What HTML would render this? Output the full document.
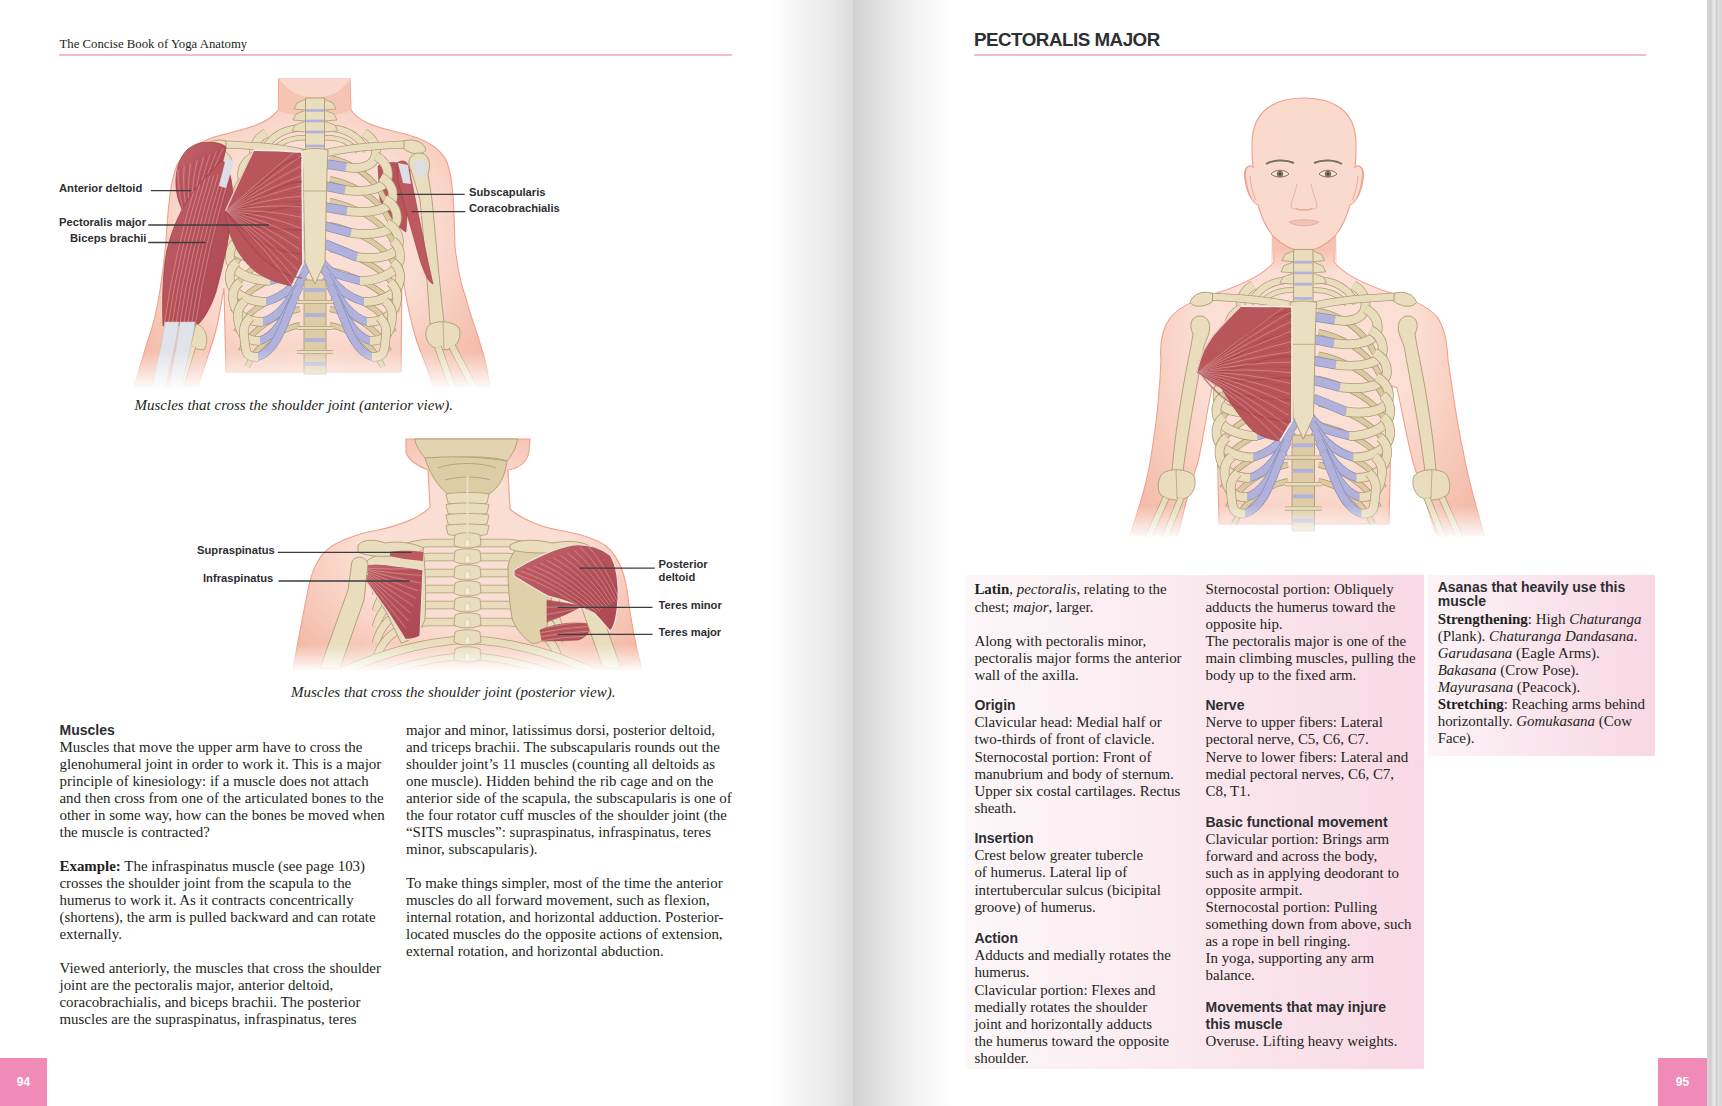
<!DOCTYPE html>
<html><head><meta charset="utf-8">
<style>
html,body{margin:0;padding:0;}
body{width:1722px;height:1106px;position:relative;overflow:hidden;background:#fff;font-family:"Liberation Serif",serif;color:#231f20;}
.abs{position:absolute;}
.s{font-family:"Liberation Sans",sans-serif;font-weight:700;color:#2c2e32;}
.b{position:absolute;font-size:14.93px;line-height:17px;white-space:nowrap;}
.r{line-height:17.22px;}
.h{font-family:"Liberation Sans",sans-serif;font-weight:700;color:#2c2e32;font-size:14px;}
.lab{position:absolute;font-family:"Liberation Sans",sans-serif;font-weight:700;color:#2c2e32;font-size:11.2px;line-height:13px;white-space:nowrap;}
.cap{position:absolute;font-style:italic;font-size:15px;white-space:nowrap;line-height:17px;}
i{font-style:italic;}
</style></head>
<body>
<!-- gutter shadow -->
<div class="abs" style="left:770px;top:0;width:83px;height:1106px;background:linear-gradient(to right,rgba(0,0,0,0) 0%,rgba(0,0,0,0.04) 30%,rgba(0,0,0,0.09) 75%,rgba(0,0,0,0.14) 100%);"></div>
<div class="abs" style="left:853px;top:0;width:100px;height:1106px;background:linear-gradient(to right,rgba(0,0,0,0.18) 0%,rgba(0,0,0,0.12) 25%,rgba(0,0,0,0.05) 60%,rgba(0,0,0,0) 100%);"></div>
<!-- right edge page stripes -->
<div class="abs" style="left:1707px;top:0;width:15px;height:1106px;background:linear-gradient(to right,#d6d6d6 0px,#cfcfcf 4px,#e4e4e4 6px,#e8e8e8 8px,#d0d0d0 9px,#d0d0d0 10px,#e6e6e6 12px,#d2d2d2 13px,#e0e0e0 15px);"></div>

<!--FIG--><svg class="abs" style="left:0;top:0" width="1722" height="1106" viewBox="0 0 1722 1106"><defs>
<linearGradient id="neckG" x1="0" y1="0" x2="0" y2="1"><stop offset="0.4" stop-color="#f5c2b1"/><stop offset="1" stop-color="#f5c2b1" stop-opacity="0"/></linearGradient>
<linearGradient id="fade" x1="0" y1="0" x2="0" y2="1"><stop offset="0" stop-color="#fff" stop-opacity="0"/><stop offset="1" stop-color="#fff" stop-opacity="1"/></linearGradient>
<radialGradient id="skinA" cx="0.5" cy="0.5" r="0.62"><stop offset="0.5" stop-color="#fbded3"/><stop offset="1" stop-color="#f4b9a7"/></radialGradient>
<radialGradient id="skinC" cx="0.5" cy="0.55" r="0.6"><stop offset="0.5" stop-color="#fbdfd4"/><stop offset="1" stop-color="#f4bba9"/></radialGradient>
<linearGradient id="musG" x1="0" y1="0" x2="1" y2="1"><stop offset="0" stop-color="#c3646a"/><stop offset="0.5" stop-color="#b6525a"/><stop offset="1" stop-color="#aa4850"/></linearGradient>
<clipPath id="clipB"><rect x="250" y="430" width="450" height="242"/></clipPath>
<clipPath id="cDeltA"><path d="M200,143 C212,141 222,143 226,147 C224,162 216,180 208,196 C202,208 196,216 190,222 C182,212 177,200 176,186 C175,170 180,156 188,149 C192,146 196,144 200,143 Z"/></clipPath><clipPath id="cBicA"><path d="M222,160 C229,166 233,182 233,200 C231,232 224,262 216,292 C210,310 202,322 196,326 L163,326 C162,300 163,270 167,250 C173,225 184,202 198,186 C207,176 214,168 222,160 Z"/></clipPath><clipPath id="cPecA"><path d="M254,150 C270,150 290,151 302,152 L303,264 L292,286 C280,284 266,279 256,272 C246,264 236,252 230,234 C227,225 226,217 225.5,211 C234,192 244,170 254,150 Z"/></clipPath><clipPath id="cInfB"><path d="M358,568 C366,563 380,563 395,566 C405,567 415,568 423,570 L420,636 C414,639 410,640 405,639 C398,628 392,618 388,612 C378,598 366,582 358,568 Z"/></clipPath><clipPath id="cTmaj"><path d="M540,630 C552,625 570,621 590,624 C592,630 586,638 578,640 C565,641 552,641 542,641 Z"/></clipPath><clipPath id="cDelB"><path d="M514,570 C530,560 555,548 573,545 C585,544 598,546 610,555 C617,565 619,585 618,600 C617,615 614,628 610,631 C604,624 598,617 594,613 C580,606 565,600 548,596 C536,590 524,582 514,576 Z"/></clipPath><clipPath id="cTmin"><path d="M547,600 C558,602 572,604 582,606 C572,612 558,618 547,622 Z"/></clipPath><clipPath id="cPecC"><path d="M1241,306 C1260,306 1278,306 1292,307 L1292,421 L1280,441 C1270,440 1260,436 1253,431 C1240,418 1228,400 1221,387 L1197,372 C1199,362 1202,355 1204,350 C1208,343 1212,336 1217,331 C1225,322 1233,314 1241,306 Z"/></clipPath></defs><path d="M278.5,79 L350,79 L351,110 C358,121 375,127 397,132 C420,137 440,146 447,162 C453,178 454,205 455,247 C458,270 461,285 465,295 C470,315 478,335 482,350 C486,362 488,372 490,388 L434,388 C428,370 422,355 417,342 C410,320 406,300 402,272 L401,372 L226,372 L224,288 C221,305 219,318 216,330 C211,350 204,365 198,388 L134,388 C140,365 145,350 148,340 C155,320 158,305 160,290 C164,265 166,245 167,225 C169,200 171,180 177,165 C185,150 200,142 214,137 C235,131 255,128 270,118 C276,113 278,111 278.5,109 Z" fill="url(#skinA)" stroke="#eea08d" stroke-width="1.1" /><path d="M279,79 L350,79 L350.5,110 C340,118 290,118 278.5,110 Z" fill="#f6c4b3" /><path d="M279,79 C290,93 300,97.5 315,97.5 C330,97.5 340,93 350,79 Z" fill="#f9d8cb" /><path d="M378,166 C390,160 402,162 410,170 L406,232 C398,228 388,215 380,200 Z" fill="#b9545a" stroke="#9a3a40" stroke-width="0.6" /><g><g><path d="M330,158 C350,162 374,176 385,200" fill="none" stroke="#a99670" stroke-width="6.0" stroke-linecap="butt"/><path d="M330,158 C350,162 374,176 385,200" fill="none" stroke="#dccaa3" stroke-width="4.5" stroke-linecap="butt"/><path d="M330,179 C350,183 379,197 390,221" fill="none" stroke="#a99670" stroke-width="6.0" stroke-linecap="butt"/><path d="M330,179 C350,183 379,197 390,221" fill="none" stroke="#dccaa3" stroke-width="4.5" stroke-linecap="butt"/><path d="M330,201 C350,205 383,219 394,243" fill="none" stroke="#a99670" stroke-width="6.0" stroke-linecap="butt"/><path d="M330,201 C350,205 383,219 394,243" fill="none" stroke="#dccaa3" stroke-width="4.5" stroke-linecap="butt"/><path d="M330,225 C350,229 385,243 396,267" fill="none" stroke="#a99670" stroke-width="6.0" stroke-linecap="butt"/><path d="M330,225 C350,229 385,243 396,267" fill="none" stroke="#dccaa3" stroke-width="4.5" stroke-linecap="butt"/><path d="M330,249 C350,253 386,267 397,291" fill="none" stroke="#a99670" stroke-width="6.0" stroke-linecap="butt"/><path d="M330,249 C350,253 386,267 397,291" fill="none" stroke="#dccaa3" stroke-width="4.5" stroke-linecap="butt"/><path d="M330,270 C350,274 386,288 397,312" fill="none" stroke="#a99670" stroke-width="6.0" stroke-linecap="butt"/><path d="M330,270 C350,274 386,288 397,312" fill="none" stroke="#dccaa3" stroke-width="4.5" stroke-linecap="butt"/><path d="M330,290 C350,294 383,308 394,332" fill="none" stroke="#a99670" stroke-width="6.0" stroke-linecap="butt"/><path d="M330,290 C350,294 383,308 394,332" fill="none" stroke="#dccaa3" stroke-width="4.5" stroke-linecap="butt"/><path d="M330,309 C350,313 378,327 389,351" fill="none" stroke="#a99670" stroke-width="6.0" stroke-linecap="butt"/><path d="M330,309 C350,313 378,327 389,351" fill="none" stroke="#dccaa3" stroke-width="4.5" stroke-linecap="butt"/><path d="M330,325 C350,329 372,343 383,367" fill="none" stroke="#a99670" stroke-width="6.0" stroke-linecap="butt"/><path d="M330,325 C350,329 372,343 383,367" fill="none" stroke="#dccaa3" stroke-width="4.5" stroke-linecap="butt"/><path d="M326,164 L346,167" fill="none" stroke="#8d8fba" stroke-width="9.5" stroke-linecap="butt"/><path d="M326,164 L346,167" fill="none" stroke="#b0b2db" stroke-width="8" stroke-linecap="butt"/><path d="M346,167 C361.0,170 376,166 376,152 C376,143 371,137 364,133" fill="none" stroke="#ad9b74" stroke-width="9.5" stroke-linecap="butt"/><path d="M346,167 C361.0,170 376,166 376,152 C376,143 371,137 364,133" fill="none" stroke="#e9ddbd" stroke-width="8" stroke-linecap="butt"/><path d="M325,186 L345,190" fill="none" stroke="#8d8fba" stroke-width="9.5" stroke-linecap="butt"/><path d="M325,186 L345,190" fill="none" stroke="#b0b2db" stroke-width="8" stroke-linecap="butt"/><path d="M345,190 C366.5,193 388,189 388,175 C388,166 383,160 376,156" fill="none" stroke="#ad9b74" stroke-width="9.5" stroke-linecap="butt"/><path d="M345,190 C366.5,193 388,189 388,175 C388,166 383,160 376,156" fill="none" stroke="#e9ddbd" stroke-width="8" stroke-linecap="butt"/><path d="M325,207 L347,211" fill="none" stroke="#8d8fba" stroke-width="9.5" stroke-linecap="butt"/><path d="M325,207 L347,211" fill="none" stroke="#b0b2db" stroke-width="8" stroke-linecap="butt"/><path d="M347,211 C370.0,214 393,210 393,196 C393,187 388,181 381,177" fill="none" stroke="#ad9b74" stroke-width="9.5" stroke-linecap="butt"/><path d="M347,211 C370.0,214 393,210 393,196 C393,187 388,181 381,177" fill="none" stroke="#e9ddbd" stroke-width="8" stroke-linecap="butt"/><path d="M325,226 L351,233" fill="none" stroke="#8d8fba" stroke-width="9.5" stroke-linecap="butt"/><path d="M325,226 L351,233" fill="none" stroke="#b0b2db" stroke-width="8" stroke-linecap="butt"/><path d="M351,233 C374.0,236 397,232 397,218 C397,209 392,203 385,199" fill="none" stroke="#ad9b74" stroke-width="9.5" stroke-linecap="butt"/><path d="M351,233 C374.0,236 397,232 397,218 C397,209 392,203 385,199" fill="none" stroke="#e9ddbd" stroke-width="8" stroke-linecap="butt"/><path d="M325,244 L357,257" fill="none" stroke="#8d8fba" stroke-width="9.5" stroke-linecap="butt"/><path d="M325,244 L357,257" fill="none" stroke="#b0b2db" stroke-width="8" stroke-linecap="butt"/><path d="M357,257 C378.0,260 399,256 399,242 C399,233 394,227 387,223" fill="none" stroke="#ad9b74" stroke-width="9.5" stroke-linecap="butt"/><path d="M357,257 C378.0,260 399,256 399,242 C399,233 394,227 387,223" fill="none" stroke="#e9ddbd" stroke-width="8" stroke-linecap="butt"/><path d="M322,262 C330,274 338,275 361,281" fill="none" stroke="#8d8fba" stroke-width="8.5" stroke-linecap="butt"/><path d="M322,262 C330,274 338,275 361,281" fill="none" stroke="#b0b2db" stroke-width="7" stroke-linecap="butt"/><path d="M360,281 C374,281 398,275 400,259 C401,251 398,245 393,241" fill="none" stroke="#ad9b74" stroke-width="9.5" stroke-linecap="butt"/><path d="M360,281 C374,281 398,275 400,259 C401,251 398,245 393,241" fill="none" stroke="#e9ddbd" stroke-width="8" stroke-linecap="butt"/><path d="M323,268 C331,280 342,296 365,302" fill="none" stroke="#8d8fba" stroke-width="8.5" stroke-linecap="butt"/><path d="M323,268 C331,280 342,296 365,302" fill="none" stroke="#b0b2db" stroke-width="7" stroke-linecap="butt"/><path d="M364,302 C378,302 398,296 400,280 C401,272 398,266 393,262" fill="none" stroke="#ad9b74" stroke-width="9.5" stroke-linecap="butt"/><path d="M364,302 C378,302 398,296 400,280 C401,272 398,266 393,262" fill="none" stroke="#e9ddbd" stroke-width="8" stroke-linecap="butt"/><path d="M326,276 C334,288 345,316 368,322" fill="none" stroke="#8d8fba" stroke-width="8.5" stroke-linecap="butt"/><path d="M326,276 C334,288 345,316 368,322" fill="none" stroke="#b0b2db" stroke-width="7" stroke-linecap="butt"/><path d="M367,322 C381,322 395,316 397,300 C398,292 395,286 390,282" fill="none" stroke="#ad9b74" stroke-width="9.5" stroke-linecap="butt"/><path d="M367,322 C381,322 395,316 397,300 C398,292 395,286 390,282" fill="none" stroke="#e9ddbd" stroke-width="8" stroke-linecap="butt"/><path d="M330,286 C338,298 348,335 371,341" fill="none" stroke="#8d8fba" stroke-width="8.5" stroke-linecap="butt"/><path d="M330,286 C338,298 348,335 371,341" fill="none" stroke="#b0b2db" stroke-width="7" stroke-linecap="butt"/><path d="M370,341 C384,341 390,335 392,319 C393,311 390,305 385,301" fill="none" stroke="#ad9b74" stroke-width="9.5" stroke-linecap="butt"/><path d="M370,341 C384,341 390,335 392,319 C393,311 390,305 385,301" fill="none" stroke="#e9ddbd" stroke-width="8" stroke-linecap="butt"/><path d="M334,296 C342,308 350,351 373,357" fill="none" stroke="#8d8fba" stroke-width="8.5" stroke-linecap="butt"/><path d="M334,296 C342,308 350,351 373,357" fill="none" stroke="#b0b2db" stroke-width="7" stroke-linecap="butt"/><path d="M372,357 C386,357 384,351 386,335 C387,327 384,321 379,317" fill="none" stroke="#ad9b74" stroke-width="9.5" stroke-linecap="butt"/><path d="M372,357 C386,357 384,351 386,335 C387,327 384,321 379,317" fill="none" stroke="#e9ddbd" stroke-width="8" stroke-linecap="butt"/><path d="M323,128 C342,127 358,134 367,151" fill="none" stroke="#ad9b74" stroke-width="7.5" stroke-linecap="butt"/><path d="M323,128 C342,127 358,134 367,151" fill="none" stroke="#e9ddbd" stroke-width="6" stroke-linecap="butt"/><path d="M323,138 C338,137 350,142 358,152" fill="none" stroke="#ad9b74" stroke-width="5.5" stroke-linecap="butt"/><path d="M323,138 C338,137 350,142 358,152" fill="none" stroke="#e9ddbd" stroke-width="4" stroke-linecap="butt"/><path d="M326,153 C345,149 362,147 378,146 C398,145 410,142 421,148" fill="none" stroke="#ad9b74" stroke-width="8.0" stroke-linecap="butt"/><path d="M326,153 C345,149 362,147 378,146 C398,145 410,142 421,148" fill="none" stroke="#e9ddbd" stroke-width="6.5" stroke-linecap="butt"/><path d="M404,141 C414,138 424,142 426,150 C422,156 410,154 404,149 Z" fill="#e9ddbd" stroke="#ad9b74" stroke-width="0.9" /><path d="M324,99 L333,103 L336,109 L324,110 Z" fill="#e9ddbd" stroke="#ad9b74" stroke-width="0.8" /><path d="M324,110 L334,114 L337,120 L324,121 Z" fill="#e9ddbd" stroke="#ad9b74" stroke-width="0.8" /><path d="M324,121 L335,125 L338,131 L324,132 Z" fill="#e9ddbd" stroke="#ad9b74" stroke-width="0.8" /></g><g transform="translate(630,0) scale(-1,1)"><path d="M330,158 C350,162 374,176 385,200" fill="none" stroke="#a99670" stroke-width="6.0" stroke-linecap="butt"/><path d="M330,158 C350,162 374,176 385,200" fill="none" stroke="#dccaa3" stroke-width="4.5" stroke-linecap="butt"/><path d="M330,179 C350,183 379,197 390,221" fill="none" stroke="#a99670" stroke-width="6.0" stroke-linecap="butt"/><path d="M330,179 C350,183 379,197 390,221" fill="none" stroke="#dccaa3" stroke-width="4.5" stroke-linecap="butt"/><path d="M330,201 C350,205 383,219 394,243" fill="none" stroke="#a99670" stroke-width="6.0" stroke-linecap="butt"/><path d="M330,201 C350,205 383,219 394,243" fill="none" stroke="#dccaa3" stroke-width="4.5" stroke-linecap="butt"/><path d="M330,225 C350,229 385,243 396,267" fill="none" stroke="#a99670" stroke-width="6.0" stroke-linecap="butt"/><path d="M330,225 C350,229 385,243 396,267" fill="none" stroke="#dccaa3" stroke-width="4.5" stroke-linecap="butt"/><path d="M330,249 C350,253 386,267 397,291" fill="none" stroke="#a99670" stroke-width="6.0" stroke-linecap="butt"/><path d="M330,249 C350,253 386,267 397,291" fill="none" stroke="#dccaa3" stroke-width="4.5" stroke-linecap="butt"/><path d="M330,270 C350,274 386,288 397,312" fill="none" stroke="#a99670" stroke-width="6.0" stroke-linecap="butt"/><path d="M330,270 C350,274 386,288 397,312" fill="none" stroke="#dccaa3" stroke-width="4.5" stroke-linecap="butt"/><path d="M330,290 C350,294 383,308 394,332" fill="none" stroke="#a99670" stroke-width="6.0" stroke-linecap="butt"/><path d="M330,290 C350,294 383,308 394,332" fill="none" stroke="#dccaa3" stroke-width="4.5" stroke-linecap="butt"/><path d="M330,309 C350,313 378,327 389,351" fill="none" stroke="#a99670" stroke-width="6.0" stroke-linecap="butt"/><path d="M330,309 C350,313 378,327 389,351" fill="none" stroke="#dccaa3" stroke-width="4.5" stroke-linecap="butt"/><path d="M330,325 C350,329 372,343 383,367" fill="none" stroke="#a99670" stroke-width="6.0" stroke-linecap="butt"/><path d="M330,325 C350,329 372,343 383,367" fill="none" stroke="#dccaa3" stroke-width="4.5" stroke-linecap="butt"/><path d="M326,164 L346,167" fill="none" stroke="#8d8fba" stroke-width="9.5" stroke-linecap="butt"/><path d="M326,164 L346,167" fill="none" stroke="#b0b2db" stroke-width="8" stroke-linecap="butt"/><path d="M346,167 C361.0,170 376,166 376,152 C376,143 371,137 364,133" fill="none" stroke="#ad9b74" stroke-width="9.5" stroke-linecap="butt"/><path d="M346,167 C361.0,170 376,166 376,152 C376,143 371,137 364,133" fill="none" stroke="#e9ddbd" stroke-width="8" stroke-linecap="butt"/><path d="M325,186 L345,190" fill="none" stroke="#8d8fba" stroke-width="9.5" stroke-linecap="butt"/><path d="M325,186 L345,190" fill="none" stroke="#b0b2db" stroke-width="8" stroke-linecap="butt"/><path d="M345,190 C366.5,193 388,189 388,175 C388,166 383,160 376,156" fill="none" stroke="#ad9b74" stroke-width="9.5" stroke-linecap="butt"/><path d="M345,190 C366.5,193 388,189 388,175 C388,166 383,160 376,156" fill="none" stroke="#e9ddbd" stroke-width="8" stroke-linecap="butt"/><path d="M325,207 L347,211" fill="none" stroke="#8d8fba" stroke-width="9.5" stroke-linecap="butt"/><path d="M325,207 L347,211" fill="none" stroke="#b0b2db" stroke-width="8" stroke-linecap="butt"/><path d="M347,211 C370.0,214 393,210 393,196 C393,187 388,181 381,177" fill="none" stroke="#ad9b74" stroke-width="9.5" stroke-linecap="butt"/><path d="M347,211 C370.0,214 393,210 393,196 C393,187 388,181 381,177" fill="none" stroke="#e9ddbd" stroke-width="8" stroke-linecap="butt"/><path d="M325,226 L351,233" fill="none" stroke="#8d8fba" stroke-width="9.5" stroke-linecap="butt"/><path d="M325,226 L351,233" fill="none" stroke="#b0b2db" stroke-width="8" stroke-linecap="butt"/><path d="M351,233 C374.0,236 397,232 397,218 C397,209 392,203 385,199" fill="none" stroke="#ad9b74" stroke-width="9.5" stroke-linecap="butt"/><path d="M351,233 C374.0,236 397,232 397,218 C397,209 392,203 385,199" fill="none" stroke="#e9ddbd" stroke-width="8" stroke-linecap="butt"/><path d="M325,244 L357,257" fill="none" stroke="#8d8fba" stroke-width="9.5" stroke-linecap="butt"/><path d="M325,244 L357,257" fill="none" stroke="#b0b2db" stroke-width="8" stroke-linecap="butt"/><path d="M357,257 C378.0,260 399,256 399,242 C399,233 394,227 387,223" fill="none" stroke="#ad9b74" stroke-width="9.5" stroke-linecap="butt"/><path d="M357,257 C378.0,260 399,256 399,242 C399,233 394,227 387,223" fill="none" stroke="#e9ddbd" stroke-width="8" stroke-linecap="butt"/><path d="M322,262 C330,274 338,275 361,281" fill="none" stroke="#8d8fba" stroke-width="8.5" stroke-linecap="butt"/><path d="M322,262 C330,274 338,275 361,281" fill="none" stroke="#b0b2db" stroke-width="7" stroke-linecap="butt"/><path d="M360,281 C374,281 398,275 400,259 C401,251 398,245 393,241" fill="none" stroke="#ad9b74" stroke-width="9.5" stroke-linecap="butt"/><path d="M360,281 C374,281 398,275 400,259 C401,251 398,245 393,241" fill="none" stroke="#e9ddbd" stroke-width="8" stroke-linecap="butt"/><path d="M323,268 C331,280 342,296 365,302" fill="none" stroke="#8d8fba" stroke-width="8.5" stroke-linecap="butt"/><path d="M323,268 C331,280 342,296 365,302" fill="none" stroke="#b0b2db" stroke-width="7" stroke-linecap="butt"/><path d="M364,302 C378,302 398,296 400,280 C401,272 398,266 393,262" fill="none" stroke="#ad9b74" stroke-width="9.5" stroke-linecap="butt"/><path d="M364,302 C378,302 398,296 400,280 C401,272 398,266 393,262" fill="none" stroke="#e9ddbd" stroke-width="8" stroke-linecap="butt"/><path d="M326,276 C334,288 345,316 368,322" fill="none" stroke="#8d8fba" stroke-width="8.5" stroke-linecap="butt"/><path d="M326,276 C334,288 345,316 368,322" fill="none" stroke="#b0b2db" stroke-width="7" stroke-linecap="butt"/><path d="M367,322 C381,322 395,316 397,300 C398,292 395,286 390,282" fill="none" stroke="#ad9b74" stroke-width="9.5" stroke-linecap="butt"/><path d="M367,322 C381,322 395,316 397,300 C398,292 395,286 390,282" fill="none" stroke="#e9ddbd" stroke-width="8" stroke-linecap="butt"/><path d="M330,286 C338,298 348,335 371,341" fill="none" stroke="#8d8fba" stroke-width="8.5" stroke-linecap="butt"/><path d="M330,286 C338,298 348,335 371,341" fill="none" stroke="#b0b2db" stroke-width="7" stroke-linecap="butt"/><path d="M370,341 C384,341 390,335 392,319 C393,311 390,305 385,301" fill="none" stroke="#ad9b74" stroke-width="9.5" stroke-linecap="butt"/><path d="M370,341 C384,341 390,335 392,319 C393,311 390,305 385,301" fill="none" stroke="#e9ddbd" stroke-width="8" stroke-linecap="butt"/><path d="M334,296 C342,308 350,351 373,357" fill="none" stroke="#8d8fba" stroke-width="8.5" stroke-linecap="butt"/><path d="M334,296 C342,308 350,351 373,357" fill="none" stroke="#b0b2db" stroke-width="7" stroke-linecap="butt"/><path d="M372,357 C386,357 384,351 386,335 C387,327 384,321 379,317" fill="none" stroke="#ad9b74" stroke-width="9.5" stroke-linecap="butt"/><path d="M372,357 C386,357 384,351 386,335 C387,327 384,321 379,317" fill="none" stroke="#e9ddbd" stroke-width="8" stroke-linecap="butt"/><path d="M323,128 C342,127 358,134 367,151" fill="none" stroke="#ad9b74" stroke-width="7.5" stroke-linecap="butt"/><path d="M323,128 C342,127 358,134 367,151" fill="none" stroke="#e9ddbd" stroke-width="6" stroke-linecap="butt"/><path d="M323,138 C338,137 350,142 358,152" fill="none" stroke="#ad9b74" stroke-width="5.5" stroke-linecap="butt"/><path d="M323,138 C338,137 350,142 358,152" fill="none" stroke="#e9ddbd" stroke-width="4" stroke-linecap="butt"/><path d="M326,153 C345,149 362,147 378,146 C398,145 410,142 421,148" fill="none" stroke="#ad9b74" stroke-width="8.0" stroke-linecap="butt"/><path d="M326,153 C345,149 362,147 378,146 C398,145 410,142 421,148" fill="none" stroke="#e9ddbd" stroke-width="6.5" stroke-linecap="butt"/><path d="M404,141 C414,138 424,142 426,150 C422,156 410,154 404,149 Z" fill="#e9ddbd" stroke="#ad9b74" stroke-width="0.9" /><path d="M324,99 L333,103 L336,109 L324,110 Z" fill="#e9ddbd" stroke="#ad9b74" stroke-width="0.8" /><path d="M324,110 L334,114 L337,120 L324,121 Z" fill="#e9ddbd" stroke="#ad9b74" stroke-width="0.8" /><path d="M324,121 L335,125 L338,131 L324,132 Z" fill="#e9ddbd" stroke="#ad9b74" stroke-width="0.8" /></g><path d="M305.5,98 L324.5,98 L324.5,152 L305.5,152 Z" fill="#e9ddbd" stroke="#ad9b74" stroke-width="0.9" /><path d="M306,110.5 L324,110.5" fill="none" stroke="#b0b2db" stroke-width="2.6" /><path d="M306,121 L324,121" fill="none" stroke="#b0b2db" stroke-width="2.6" /><path d="M306,132 L324,132" fill="none" stroke="#b0b2db" stroke-width="2.6" /><path d="M306,146 L324,146" fill="none" stroke="#b0b2db" stroke-width="2.6" /><path d="M304,280 L326,280 L326,374 L304,374 Z" fill="#ddcca6" stroke="#ad9b74" stroke-width="0.9" /><path d="M305,290 L325,290" fill="none" stroke="#b0b2db" stroke-width="3.8" /><path d="M305,315 L325,315" fill="none" stroke="#b0b2db" stroke-width="3.8" /><path d="M305,340 L325,340" fill="none" stroke="#b0b2db" stroke-width="3.8" /><path d="M305,364 L325,364" fill="none" stroke="#b0b2db" stroke-width="3.8" /><path d="M297,302 L333,302" fill="none" stroke="#ad9b74" stroke-width="4.1" stroke-linecap="butt"/><path d="M297,302 L333,302" fill="none" stroke="#e9ddbd" stroke-width="2.6" stroke-linecap="butt"/><path d="M297,328 L333,328" fill="none" stroke="#ad9b74" stroke-width="4.1" stroke-linecap="butt"/><path d="M297,328 L333,328" fill="none" stroke="#e9ddbd" stroke-width="2.6" stroke-linecap="butt"/><path d="M297,352 L333,352" fill="none" stroke="#ad9b74" stroke-width="4.1" stroke-linecap="butt"/><path d="M297,352 L333,352" fill="none" stroke="#e9ddbd" stroke-width="2.6" stroke-linecap="butt"/><path d="M302,150 C310,148 320,148 328,150 L327,172 L325,262 L315,284 L305,262 L303,172 Z" fill="#eadfc1" stroke="#ad9b74" stroke-width="0.9" /><path d="M304,191 L326,191" fill="none" stroke="#ad9b74" stroke-width="0.7" /></g><path d="M411,170 C406,162 410,153 419,153 C428,153 432,162 428,174 L432,200 C436,240 440,290 444,322 L430,324 C428,290 424,240 420,200 L414,180 Z" fill="#e9ddbd" stroke="#ad9b74" stroke-width="0.9" /><path d="M428,326 C434,320 452,320 459,328 C462,336 458,346 450,349 C440,351 430,348 427,340 C425,334 426,330 428,326 Z" fill="#e9ddbd" stroke="#ad9b74" stroke-width="0.9" /><path d="M443,322 L444,349" fill="none" stroke="#ad9b74" stroke-width="0.7" /><path d="M438,347 L454,392" fill="none" stroke="#ad9b74" stroke-width="7.5" stroke-linecap="butt"/><path d="M438,347 L454,392" fill="none" stroke="#e9ddbd" stroke-width="6" stroke-linecap="butt"/><path d="M452,346 L476,392" fill="none" stroke="#ad9b74" stroke-width="7.5" stroke-linecap="butt"/><path d="M452,346 L476,392" fill="none" stroke="#e9ddbd" stroke-width="6" stroke-linecap="butt"/><path d="M414,160 C420,157 428,162 428,170 L420,180 C416,174 413,167 414,160 Z" fill="#dcdde5" opacity="0.9"/><path d="M397,163 C402,159 408,161 409,168 L428,262 L433,284 C428,282 424,272 420,260 L398,182 Z" fill="#bd5a5f" stroke="#9a3a40" stroke-width="0.6" /><path d="M398,163 L408,165 L411,184 L403,183 Z" fill="#dcdde5" /><path d="M210,150 C218,146 228,150 232,160 L224,200 L212,200 Z" fill="#e9ddbd" stroke="#ad9b74" stroke-width="0.8" /><path d="M200,143 C212,141 222,143 226,147 C224,162 216,180 208,196 C202,208 196,216 190,222 C182,212 177,200 176,186 C175,170 180,156 188,149 C192,146 196,144 200,143 Z" fill="url(#musG)" stroke="#9a3a40" stroke-width="0.7" /><g clip-path="url(#cDeltA)"><path d="M177.6,169.2 Q178.0,195.5 186.4,221.8" fill="none" stroke="#e7aeab" stroke-width="0.9" opacity="0.55"/><path d="M180.9,167.8 Q180.1,194.5 187.3,221.2" fill="none" stroke="#a3434a" stroke-width="0.9" opacity="0.35"/><path d="M184.1,166.2 Q182.2,193.5 188.2,220.8" fill="none" stroke="#e7aeab" stroke-width="0.9" opacity="0.55"/><path d="M187.4,164.8 Q184.2,192.5 189.1,220.2" fill="none" stroke="#a3434a" stroke-width="0.9" opacity="0.35"/><path d="M190.6,163.2 Q186.3,191.5 189.9,219.8" fill="none" stroke="#e7aeab" stroke-width="0.9" opacity="0.55"/><path d="M193.9,161.8 Q188.3,190.5 190.8,219.2" fill="none" stroke="#a3434a" stroke-width="0.9" opacity="0.35"/><path d="M197.1,160.2 Q190.4,189.5 191.7,218.8" fill="none" stroke="#e7aeab" stroke-width="0.9" opacity="0.55"/><path d="M200.4,158.8 Q192.5,188.5 192.6,218.2" fill="none" stroke="#a3434a" stroke-width="0.9" opacity="0.35"/><path d="M203.6,157.2 Q194.5,187.5 193.4,217.8" fill="none" stroke="#e7aeab" stroke-width="0.9" opacity="0.55"/><path d="M206.9,155.8 Q196.6,186.5 194.3,217.2" fill="none" stroke="#a3434a" stroke-width="0.9" opacity="0.35"/><path d="M210.1,154.2 Q198.7,185.5 195.2,216.8" fill="none" stroke="#e7aeab" stroke-width="0.9" opacity="0.55"/><path d="M213.4,152.8 Q200.7,184.5 196.1,216.2" fill="none" stroke="#a3434a" stroke-width="0.9" opacity="0.35"/><path d="M216.6,151.2 Q202.8,183.5 196.9,215.8" fill="none" stroke="#e7aeab" stroke-width="0.9" opacity="0.55"/><path d="M219.9,149.8 Q204.8,182.5 197.8,215.2" fill="none" stroke="#a3434a" stroke-width="0.9" opacity="0.35"/><path d="M223.1,148.2 Q206.9,181.5 198.7,214.8" fill="none" stroke="#e7aeab" stroke-width="0.9" opacity="0.55"/><path d="M226.4,146.8 Q209.0,180.5 199.6,214.2" fill="none" stroke="#a3434a" stroke-width="0.9" opacity="0.35"/></g><path d="M222,160 C229,166 233,182 233,200 C231,232 224,262 216,292 C210,310 202,322 196,326 L163,326 C162,300 163,270 167,250 C173,225 184,202 198,186 C207,176 214,168 222,160 Z" fill="url(#musG)" stroke="#9a3a40" stroke-width="0.7" /><g clip-path="url(#cBicA)"><path d="M164.0,326.0 Q174.5,252.9 197.1,179.7" fill="none" stroke="#e7aeab" stroke-width="0.9" opacity="0.55"/><path d="M165.9,326.0 Q176.5,252.6 199.2,179.2" fill="none" stroke="#a3434a" stroke-width="0.9" opacity="0.35"/><path d="M167.9,326.0 Q178.6,252.3 201.3,178.6" fill="none" stroke="#e7aeab" stroke-width="0.9" opacity="0.55"/><path d="M169.8,326.0 Q180.6,252.0 203.4,178.1" fill="none" stroke="#a3434a" stroke-width="0.9" opacity="0.35"/><path d="M171.8,326.0 Q182.6,251.8 205.5,177.5" fill="none" stroke="#e7aeab" stroke-width="0.9" opacity="0.55"/><path d="M173.7,326.0 Q184.7,251.5 207.6,176.9" fill="none" stroke="#a3434a" stroke-width="0.9" opacity="0.35"/><path d="M175.6,326.0 Q186.7,251.2 209.7,176.4" fill="none" stroke="#e7aeab" stroke-width="0.9" opacity="0.55"/><path d="M177.6,326.0 Q188.7,250.9 211.8,175.8" fill="none" stroke="#a3434a" stroke-width="0.9" opacity="0.35"/><path d="M179.5,326.0 Q190.7,250.6 213.9,175.3" fill="none" stroke="#e7aeab" stroke-width="0.9" opacity="0.55"/><path d="M181.5,326.0 Q192.8,250.4 216.1,174.7" fill="none" stroke="#a3434a" stroke-width="0.9" opacity="0.35"/><path d="M183.4,326.0 Q194.8,250.1 218.2,174.2" fill="none" stroke="#e7aeab" stroke-width="0.9" opacity="0.55"/><path d="M185.4,326.0 Q196.8,249.8 220.3,173.6" fill="none" stroke="#a3434a" stroke-width="0.9" opacity="0.35"/><path d="M187.3,326.0 Q198.8,249.5 222.4,173.1" fill="none" stroke="#e7aeab" stroke-width="0.9" opacity="0.55"/><path d="M189.2,326.0 Q200.9,249.2 224.5,172.5" fill="none" stroke="#a3434a" stroke-width="0.9" opacity="0.35"/><path d="M191.2,326.0 Q202.9,249.0 226.6,171.9" fill="none" stroke="#e7aeab" stroke-width="0.9" opacity="0.55"/><path d="M193.1,326.0 Q204.9,248.7 228.7,171.4" fill="none" stroke="#a3434a" stroke-width="0.9" opacity="0.35"/><path d="M195.1,326.0 Q207.0,248.4 230.8,170.8" fill="none" stroke="#e7aeab" stroke-width="0.9" opacity="0.55"/><path d="M197.0,326.0 Q209.0,248.1 232.9,170.3" fill="none" stroke="#a3434a" stroke-width="0.9" opacity="0.35"/></g><path d="M226,158 L234,161 L226,188 L219,186 Z" fill="#dcdde5" /><path d="M196,324 C206,326 210,340 204,350 L190,348 Z" fill="#e9ddbd" stroke="#ad9b74" stroke-width="0.8" /><path d="M192,346 L178,392" fill="none" stroke="#ad9b74" stroke-width="8.5" stroke-linecap="butt"/><path d="M192,346 L178,392" fill="none" stroke="#e9ddbd" stroke-width="7" stroke-linecap="butt"/><path d="M165,322 L179,322 C176,345 170,365 164,392 L152,392 C156,365 162,345 165,322 Z" fill="#e2e3ea" stroke="#c9c3bd" stroke-width="0.6" /><path d="M180,322 L195,322 C192,345 186,365 180,392 L169,392 C172,365 177,345 180,322 Z" fill="#e2e3ea" stroke="#c9c3bd" stroke-width="0.6" /><path d="M254,150 C270,150 290,151 302,152 L303,264 L292,286 C280,284 266,279 256,272 C246,264 236,252 230,234 C227,225 226,217 225.5,211 C234,192 244,170 254,150 Z" fill="#b9565c" stroke="#9c4248" stroke-width="0.6" /><path d="M254,150 C270,150 290,151 302,152 L303,264 L292,286" fill="none" stroke="#f3ede6" stroke-width="1.8" /><path d="M225.5,211 C234,192 244,170 254,150" fill="none" stroke="#efcfc6" stroke-width="1.3" /><path d="M226,211 C250,205 275,156 302,158" fill="none" stroke="#a8434a" stroke-width="1.6" opacity="0.6"/><path d="M226,211 C250,214 275,180 302,182" fill="none" stroke="#a8434a" stroke-width="1.6" opacity="0.6"/><path d="M226,211 C250,223 275,204 302,206" fill="none" stroke="#a8434a" stroke-width="1.6" opacity="0.6"/><path d="M226,211 C250,232 275,228 302,230" fill="none" stroke="#a8434a" stroke-width="1.6" opacity="0.6"/><path d="M226,211 C250,241 275,252 302,254" fill="none" stroke="#a8434a" stroke-width="1.6" opacity="0.6"/><path d="M226,211 C250,250 275,276 302,278" fill="none" stroke="#a8434a" stroke-width="1.6" opacity="0.6"/><g clip-path="url(#cPecA)"><path d="M226.0,211.0 Q269.9,171.8 305.8,142.7" fill="none" stroke="#e7aeab" stroke-width="0.9" opacity="0.55"/><path d="M226.0,211.0 Q269.8,174.5 305.5,148.0" fill="none" stroke="#a3434a" stroke-width="0.9" opacity="0.35"/><path d="M226.0,211.0 Q269.6,177.2 305.2,153.3" fill="none" stroke="#e7aeab" stroke-width="0.9" opacity="0.55"/><path d="M226.0,211.0 Q269.4,179.8 304.8,158.7" fill="none" stroke="#a3434a" stroke-width="0.9" opacity="0.35"/><path d="M226.0,211.0 Q269.2,182.5 304.5,164.0" fill="none" stroke="#e7aeab" stroke-width="0.9" opacity="0.55"/><path d="M226.0,211.0 Q269.1,185.2 304.2,169.3" fill="none" stroke="#a3434a" stroke-width="0.9" opacity="0.35"/><path d="M226.0,211.0 Q268.9,187.8 303.8,174.7" fill="none" stroke="#e7aeab" stroke-width="0.9" opacity="0.55"/><path d="M226.0,211.0 Q268.8,190.5 303.5,180.0" fill="none" stroke="#a3434a" stroke-width="0.9" opacity="0.35"/><path d="M226.0,211.0 Q268.6,193.2 303.2,185.3" fill="none" stroke="#e7aeab" stroke-width="0.9" opacity="0.55"/><path d="M226.0,211.0 Q268.4,195.8 302.8,190.7" fill="none" stroke="#a3434a" stroke-width="0.9" opacity="0.35"/><path d="M226.0,211.0 Q268.2,198.5 302.5,196.0" fill="none" stroke="#e7aeab" stroke-width="0.9" opacity="0.55"/><path d="M226.0,211.0 Q268.1,201.2 302.2,201.3" fill="none" stroke="#a3434a" stroke-width="0.9" opacity="0.35"/><path d="M226.0,211.0 Q267.9,203.8 301.8,206.7" fill="none" stroke="#e7aeab" stroke-width="0.9" opacity="0.55"/><path d="M226.0,211.0 Q267.8,206.5 301.5,212.0" fill="none" stroke="#a3434a" stroke-width="0.9" opacity="0.35"/><path d="M226.0,211.0 Q267.6,209.2 301.2,217.3" fill="none" stroke="#e7aeab" stroke-width="0.9" opacity="0.55"/><path d="M226.0,211.0 Q267.4,211.8 300.8,222.7" fill="none" stroke="#a3434a" stroke-width="0.9" opacity="0.35"/><path d="M226.0,211.0 Q267.2,214.5 300.5,228.0" fill="none" stroke="#e7aeab" stroke-width="0.9" opacity="0.55"/><path d="M226.0,211.0 Q267.1,217.2 300.2,233.3" fill="none" stroke="#a3434a" stroke-width="0.9" opacity="0.35"/><path d="M226.0,211.0 Q266.9,219.8 299.8,238.7" fill="none" stroke="#e7aeab" stroke-width="0.9" opacity="0.55"/><path d="M226.0,211.0 Q266.8,222.5 299.5,244.0" fill="none" stroke="#a3434a" stroke-width="0.9" opacity="0.35"/><path d="M226.0,211.0 Q266.6,225.2 299.2,249.3" fill="none" stroke="#e7aeab" stroke-width="0.9" opacity="0.55"/><path d="M226.0,211.0 Q266.4,227.8 298.8,254.7" fill="none" stroke="#a3434a" stroke-width="0.9" opacity="0.35"/><path d="M226.0,211.0 Q266.2,230.5 298.5,260.0" fill="none" stroke="#e7aeab" stroke-width="0.9" opacity="0.55"/><path d="M226.0,211.0 Q266.1,233.2 298.2,265.3" fill="none" stroke="#a3434a" stroke-width="0.9" opacity="0.35"/><path d="M226.0,211.0 Q265.9,235.8 297.8,270.7" fill="none" stroke="#e7aeab" stroke-width="0.9" opacity="0.55"/><path d="M226.0,211.0 Q265.8,238.5 297.5,276.0" fill="none" stroke="#a3434a" stroke-width="0.9" opacity="0.35"/><path d="M226.0,211.0 Q265.6,241.2 297.2,281.3" fill="none" stroke="#e7aeab" stroke-width="0.9" opacity="0.55"/><path d="M226.0,211.0 Q265.4,243.8 296.8,286.7" fill="none" stroke="#a3434a" stroke-width="0.9" opacity="0.35"/><path d="M226.0,211.0 Q265.2,246.5 296.5,292.0" fill="none" stroke="#e7aeab" stroke-width="0.9" opacity="0.55"/><path d="M226.0,211.0 Q265.1,249.2 296.2,297.3" fill="none" stroke="#a3434a" stroke-width="0.9" opacity="0.35"/></g><rect x="120" y="350" width="390" height="40" fill="url(#fade)"/><rect x="120" y="388" width="390" height="12" fill="#fff"/><line x1="150.8" y1="190.6" x2="191.3" y2="190.6" stroke="#3b3d40" stroke-width="1.3"/><line x1="148.2" y1="225" x2="269" y2="225" stroke="#3b3d40" stroke-width="1.3"/><line x1="148.2" y1="242.5" x2="205.6" y2="242.5" stroke="#3b3d40" stroke-width="1.3"/><line x1="396.8" y1="194.3" x2="464.7" y2="194.3" stroke="#3b3d40" stroke-width="1.3"/><line x1="411.4" y1="211.6" x2="465.3" y2="211.6" stroke="#3b3d40" stroke-width="1.3"/><g clip-path="url(#clipB)"><path d="M406,439 L530,439 L529,452 C527,462 520,468 508,470 L510,509 C520,518 540,527 558,530 C575,533 595,538 606,546 C618,556 624,570 627,590 C630,615 634,640 642,670 L293,670 C298,640 303,615 307,595 C311,572 317,556 332,546 C345,538 365,532 378,530 C398,526 420,518 430,507 L428,470 C418,466 408,460 406,452 Z" fill="url(#skinA)" stroke="#eea08d" stroke-width="1.1" /><path d="M414.7,439 L517.5,439 C516,448 512,455 507,461 C498,457 470,456 451,458 C440,458 430,458 425,458 C420,452 416,446 414.7,439 Z" fill="#e2d4b0" stroke="#ad9b74" stroke-width="0.9" /><path d="M425,458 C440,457 470,455 507,461 C505,476 500,487 489,494 L448,494 C438,487 430,474 425,458 Z" fill="#ddcda6" stroke="#ad9b74" stroke-width="0.9" /><path d="M438,468 C452,462 482,462 496,468" fill="none" stroke="#ad9b74" stroke-width="0.8" /><path d="M445,480 C458,476 478,476 490,480" fill="none" stroke="#ad9b74" stroke-width="0.8" /><path d="M446,494.0 C455,492.0 480,492.0 489,494.0 L487,503.0 C478,505.0 456,505.0 448,503.0 Z" fill="#e9ddbd" stroke="#ad9b74" stroke-width="0.8" /><path d="M446,504.5 C455,502.5 480,502.5 489,504.5 L487,513.5 C478,515.5 456,515.5 448,513.5 Z" fill="#e9ddbd" stroke="#ad9b74" stroke-width="0.8" /><path d="M446,515.0 C455,513.0 480,513.0 489,515.0 L487,524.0 C478,526.0 456,526.0 448,524.0 Z" fill="#e9ddbd" stroke="#ad9b74" stroke-width="0.8" /><path d="M446,525.5 C455,523.5 480,523.5 489,525.5 L487,534.5 C478,536.5 456,536.5 448,534.5 Z" fill="#e9ddbd" stroke="#ad9b74" stroke-width="0.8" /><g><path d="M467,543 L428,543 C412,544 398,549 388,559 C382,565 378,573 376,581" fill="none" stroke="#ad9b74" stroke-width="8.5" stroke-linecap="butt"/><path d="M467,543 L428,543 C412,544 398,549 388,559 C382,565 378,573 376,581" fill="none" stroke="#e9ddbd" stroke-width="7" stroke-linecap="butt"/><path d="M467,557 L428,557 C412,558 398,563 388,573 C382,579 378,587 376,595" fill="none" stroke="#ad9b74" stroke-width="8.5" stroke-linecap="butt"/><path d="M467,557 L428,557 C412,558 398,563 388,573 C382,579 378,587 376,595" fill="none" stroke="#e9ddbd" stroke-width="7" stroke-linecap="butt"/><path d="M467,573 L428,573 C412,574 398,579 388,589 C382,595 378,603 376,611" fill="none" stroke="#ad9b74" stroke-width="8.5" stroke-linecap="butt"/><path d="M467,573 L428,573 C412,574 398,579 388,589 C382,595 378,603 376,611" fill="none" stroke="#e9ddbd" stroke-width="7" stroke-linecap="butt"/><path d="M467,589 L428,589 C412,590 398,595 388,605 C382,611 378,619 376,627" fill="none" stroke="#ad9b74" stroke-width="8.5" stroke-linecap="butt"/><path d="M467,589 L428,589 C412,590 398,595 388,605 C382,611 378,619 376,627" fill="none" stroke="#e9ddbd" stroke-width="7" stroke-linecap="butt"/><path d="M467,605 L428,605 C412,606 398,611 388,621 C382,627 378,635 376,643" fill="none" stroke="#ad9b74" stroke-width="8.5" stroke-linecap="butt"/><path d="M467,605 L428,605 C412,606 398,611 388,621 C382,627 378,635 376,643" fill="none" stroke="#e9ddbd" stroke-width="7" stroke-linecap="butt"/><path d="M467,622 L428,622 C412,623 398,628 388,638 C382,644 378,652 376,660" fill="none" stroke="#ad9b74" stroke-width="8.5" stroke-linecap="butt"/><path d="M467,622 L428,622 C412,623 398,628 388,638 C382,644 378,652 376,660" fill="none" stroke="#e9ddbd" stroke-width="7" stroke-linecap="butt"/><path d="M467,640 C440,640 400,648 365,662 C350,668 340,672 332,676" fill="none" stroke="#ad9b74" stroke-width="8.5" stroke-linecap="butt"/><path d="M467,640 C440,640 400,648 365,662 C350,668 340,672 332,676" fill="none" stroke="#e9ddbd" stroke-width="7" stroke-linecap="butt"/><path d="M467,656 C440,657 405,664 375,676" fill="none" stroke="#ad9b74" stroke-width="7.5" stroke-linecap="butt"/><path d="M467,656 C440,657 405,664 375,676" fill="none" stroke="#e9ddbd" stroke-width="6" stroke-linecap="butt"/></g><g transform="translate(935,0) scale(-1,1)"><path d="M467,543 L428,543 C412,544 398,549 388,559 C382,565 378,573 376,581" fill="none" stroke="#ad9b74" stroke-width="8.5" stroke-linecap="butt"/><path d="M467,543 L428,543 C412,544 398,549 388,559 C382,565 378,573 376,581" fill="none" stroke="#e9ddbd" stroke-width="7" stroke-linecap="butt"/><path d="M467,557 L428,557 C412,558 398,563 388,573 C382,579 378,587 376,595" fill="none" stroke="#ad9b74" stroke-width="8.5" stroke-linecap="butt"/><path d="M467,557 L428,557 C412,558 398,563 388,573 C382,579 378,587 376,595" fill="none" stroke="#e9ddbd" stroke-width="7" stroke-linecap="butt"/><path d="M467,573 L428,573 C412,574 398,579 388,589 C382,595 378,603 376,611" fill="none" stroke="#ad9b74" stroke-width="8.5" stroke-linecap="butt"/><path d="M467,573 L428,573 C412,574 398,579 388,589 C382,595 378,603 376,611" fill="none" stroke="#e9ddbd" stroke-width="7" stroke-linecap="butt"/><path d="M467,589 L428,589 C412,590 398,595 388,605 C382,611 378,619 376,627" fill="none" stroke="#ad9b74" stroke-width="8.5" stroke-linecap="butt"/><path d="M467,589 L428,589 C412,590 398,595 388,605 C382,611 378,619 376,627" fill="none" stroke="#e9ddbd" stroke-width="7" stroke-linecap="butt"/><path d="M467,605 L428,605 C412,606 398,611 388,621 C382,627 378,635 376,643" fill="none" stroke="#ad9b74" stroke-width="8.5" stroke-linecap="butt"/><path d="M467,605 L428,605 C412,606 398,611 388,621 C382,627 378,635 376,643" fill="none" stroke="#e9ddbd" stroke-width="7" stroke-linecap="butt"/><path d="M467,622 L428,622 C412,623 398,628 388,638 C382,644 378,652 376,660" fill="none" stroke="#ad9b74" stroke-width="8.5" stroke-linecap="butt"/><path d="M467,622 L428,622 C412,623 398,628 388,638 C382,644 378,652 376,660" fill="none" stroke="#e9ddbd" stroke-width="7" stroke-linecap="butt"/><path d="M467,640 C440,640 400,648 365,662 C350,668 340,672 332,676" fill="none" stroke="#ad9b74" stroke-width="8.5" stroke-linecap="butt"/><path d="M467,640 C440,640 400,648 365,662 C350,668 340,672 332,676" fill="none" stroke="#e9ddbd" stroke-width="7" stroke-linecap="butt"/><path d="M467,656 C440,657 405,664 375,676" fill="none" stroke="#ad9b74" stroke-width="7.5" stroke-linecap="butt"/><path d="M467,656 C440,657 405,664 375,676" fill="none" stroke="#e9ddbd" stroke-width="6" stroke-linecap="butt"/></g><path d="M455,535 C460,532 474,532 480,535 L481,545 C474,549 460,549 454,545 Z" fill="#e9ddbd" stroke="#ad9b74" stroke-width="0.8" /><path d="M467.5,538 C470.5,541 471,545 469.5,547 L465.5,547 C464,545 464.5,541 467.5,538 Z" fill="#f4ecd8" stroke="#c9b78f" stroke-width="0.5" /><path d="M455,551 C460,548 474,548 480,551 L481,561 C474,565 460,565 454,561 Z" fill="#e9ddbd" stroke="#ad9b74" stroke-width="0.8" /><path d="M467.5,554 C470.5,557 471,561 469.5,563 L465.5,563 C464,561 464.5,557 467.5,554 Z" fill="#f4ecd8" stroke="#c9b78f" stroke-width="0.5" /><path d="M455,567 C460,564 474,564 480,567 L481,577 C474,581 460,581 454,577 Z" fill="#e9ddbd" stroke="#ad9b74" stroke-width="0.8" /><path d="M467.5,570 C470.5,573 471,577 469.5,579 L465.5,579 C464,577 464.5,573 467.5,570 Z" fill="#f4ecd8" stroke="#c9b78f" stroke-width="0.5" /><path d="M455,583 C460,580 474,580 480,583 L481,593 C474,597 460,597 454,593 Z" fill="#e9ddbd" stroke="#ad9b74" stroke-width="0.8" /><path d="M467.5,586 C470.5,589 471,593 469.5,595 L465.5,595 C464,593 464.5,589 467.5,586 Z" fill="#f4ecd8" stroke="#c9b78f" stroke-width="0.5" /><path d="M455,599 C460,596 474,596 480,599 L481,609 C474,613 460,613 454,609 Z" fill="#e9ddbd" stroke="#ad9b74" stroke-width="0.8" /><path d="M467.5,602 C470.5,605 471,609 469.5,611 L465.5,611 C464,609 464.5,605 467.5,602 Z" fill="#f4ecd8" stroke="#c9b78f" stroke-width="0.5" /><path d="M455,615 C460,612 474,612 480,615 L481,625 C474,629 460,629 454,625 Z" fill="#e9ddbd" stroke="#ad9b74" stroke-width="0.8" /><path d="M467.5,618 C470.5,621 471,625 469.5,627 L465.5,627 C464,625 464.5,621 467.5,618 Z" fill="#f4ecd8" stroke="#c9b78f" stroke-width="0.5" /><path d="M455,632 C460,629 474,629 480,632 L481,642 C474,646 460,646 454,642 Z" fill="#e9ddbd" stroke="#ad9b74" stroke-width="0.8" /><path d="M467.5,635 C470.5,638 471,642 469.5,644 L465.5,644 C464,642 464.5,638 467.5,635 Z" fill="#f4ecd8" stroke="#c9b78f" stroke-width="0.5" /><path d="M455,649 C460,646 474,646 480,649 L481,659 C474,663 460,663 454,659 Z" fill="#e9ddbd" stroke="#ad9b74" stroke-width="0.8" /><path d="M467.5,652 C470.5,655 471,659 469.5,661 L465.5,661 C464,659 464.5,655 467.5,652 Z" fill="#f4ecd8" stroke="#c9b78f" stroke-width="0.5" /><path d="M466.5,476 L468.5,476 L468.5,534 L466.5,534 Z" fill="#efe5cc" opacity="0.8"/><path d="M362,565 C370,556 385,552 400,549 L423,549 C426,570 426,600 425,619 C422,630 412,641 401,643 C396,632 390,620 386,612 C378,598 368,582 362,565 Z" fill="#e9ddbd" stroke="#ad9b74" stroke-width="0.9" /><path d="M358,545 C364,538 378,540 385,543 C398,541 410,542 424,548 C418,556 402,556 392,556 C380,557 366,556 358,552 Z" fill="#e9ddbd" stroke="#ad9b74" stroke-width="0.9" /><path d="M390,552 C402,550 414,551 423,552 L423,561 C410,560 398,558 390,556 Z" fill="#bc5a60" /><path d="M358,568 C366,563 380,563 395,566 C405,567 415,568 423,570 L420,636 C414,639 410,640 405,639 C398,628 392,618 388,612 C378,598 366,582 358,568 Z" fill="url(#musG)" stroke="#e9e3de" stroke-width="1.2" /><g clip-path="url(#cInfB)"><path d="M358.0,568.0 Q393.7,570.0 425.4,567.9" fill="none" stroke="#e7aeab" stroke-width="0.9" opacity="0.55"/><path d="M358.0,568.0 Q393.1,571.9 424.2,571.7" fill="none" stroke="#a3434a" stroke-width="0.9" opacity="0.35"/><path d="M358.0,568.0 Q392.5,573.8 423.0,575.5" fill="none" stroke="#e7aeab" stroke-width="0.9" opacity="0.55"/><path d="M358.0,568.0 Q391.9,575.6 421.8,579.3" fill="none" stroke="#a3434a" stroke-width="0.9" opacity="0.35"/><path d="M358.0,568.0 Q391.3,577.5 420.6,583.1" fill="none" stroke="#e7aeab" stroke-width="0.9" opacity="0.55"/><path d="M358.0,568.0 Q390.7,579.5 419.4,586.9" fill="none" stroke="#a3434a" stroke-width="0.9" opacity="0.35"/><path d="M358.0,568.0 Q390.1,581.4 418.2,590.7" fill="none" stroke="#e7aeab" stroke-width="0.9" opacity="0.55"/><path d="M358.0,568.0 Q389.5,583.2 417.0,594.5" fill="none" stroke="#a3434a" stroke-width="0.9" opacity="0.35"/><path d="M358.0,568.0 Q388.9,585.1 415.8,598.3" fill="none" stroke="#e7aeab" stroke-width="0.9" opacity="0.55"/><path d="M358.0,568.0 Q388.3,587.0 414.6,602.1" fill="none" stroke="#a3434a" stroke-width="0.9" opacity="0.35"/><path d="M358.0,568.0 Q387.7,589.0 413.4,605.9" fill="none" stroke="#e7aeab" stroke-width="0.9" opacity="0.55"/><path d="M358.0,568.0 Q387.1,590.9 412.2,609.7" fill="none" stroke="#a3434a" stroke-width="0.9" opacity="0.35"/><path d="M358.0,568.0 Q386.5,592.8 411.0,613.5" fill="none" stroke="#e7aeab" stroke-width="0.9" opacity="0.55"/><path d="M358.0,568.0 Q385.9,594.6 409.8,617.3" fill="none" stroke="#a3434a" stroke-width="0.9" opacity="0.35"/><path d="M358.0,568.0 Q385.3,596.5 408.6,621.1" fill="none" stroke="#e7aeab" stroke-width="0.9" opacity="0.55"/><path d="M358.0,568.0 Q384.7,598.5 407.4,624.9" fill="none" stroke="#a3434a" stroke-width="0.9" opacity="0.35"/><path d="M358.0,568.0 Q384.1,600.4 406.2,628.7" fill="none" stroke="#e7aeab" stroke-width="0.9" opacity="0.55"/><path d="M358.0,568.0 Q383.5,602.2 405.0,632.5" fill="none" stroke="#a3434a" stroke-width="0.9" opacity="0.35"/><path d="M358.0,568.0 Q382.9,604.1 403.8,636.3" fill="none" stroke="#e7aeab" stroke-width="0.9" opacity="0.55"/><path d="M358.0,568.0 Q382.3,606.0 402.6,640.1" fill="none" stroke="#a3434a" stroke-width="0.9" opacity="0.35"/></g><path d="M353,566 L365,563 L368,575 L358,576 Z" fill="#e2e3ea" /><path d="M352,561 C356,555 366,556 368,564 L364,600 L340,668 L320,668 L348,590 Z" fill="#e9ddbd" stroke="#ad9b74" stroke-width="0.9" /><path d="M508,566 C510,556 516,548 520,546 L575,545 C566,565 556,585 551,600 L545,639 C540,643 535,644 531,643 C522,636 515,628 512,618 C509,600 508,584 508,566 Z" fill="#e0d1ab" stroke="#ad9b74" stroke-width="0.9" /><path d="M510,545 C520,538 540,540 552,543 C566,541 578,540 590,546 C580,552 560,553 545,553 C530,553 516,552 510,549 Z" fill="#e9ddbd" stroke="#ad9b74" stroke-width="0.9" /><path d="M540,630 C552,625 570,621 590,624 C592,630 586,638 578,640 C565,641 552,641 542,641 Z" fill="#b9565c" stroke="#9a3a40" stroke-width="0.5" /><g clip-path="url(#cTmaj)"><path d="M538.1,629.0 Q564.9,623.1 591.8,621.2" fill="none" stroke="#e7aeab" stroke-width="0.9" opacity="0.55"/><path d="M538.4,631.0 Q564.8,625.4 591.2,623.8" fill="none" stroke="#a3434a" stroke-width="0.9" opacity="0.35"/><path d="M538.6,633.0 Q564.7,627.6 590.8,626.2" fill="none" stroke="#e7aeab" stroke-width="0.9" opacity="0.55"/><path d="M538.9,635.0 Q564.6,629.9 590.2,628.8" fill="none" stroke="#a3434a" stroke-width="0.9" opacity="0.35"/><path d="M539.1,637.0 Q564.4,632.1 589.8,631.2" fill="none" stroke="#e7aeab" stroke-width="0.9" opacity="0.55"/><path d="M539.4,639.0 Q564.3,634.4 589.2,633.8" fill="none" stroke="#a3434a" stroke-width="0.9" opacity="0.35"/><path d="M539.6,641.0 Q564.2,636.6 588.8,636.2" fill="none" stroke="#e7aeab" stroke-width="0.9" opacity="0.55"/><path d="M539.9,643.0 Q564.1,638.9 588.2,638.8" fill="none" stroke="#a3434a" stroke-width="0.9" opacity="0.35"/></g><path d="M581,606 L599,606 L621,668 L603,668 Z" fill="#e9ddbd" stroke="#ad9b74" stroke-width="0.9" /><path d="M514,570 C530,560 555,548 573,545 C585,544 598,546 610,555 C617,565 619,585 618,600 C617,615 614,628 610,631 C604,624 598,617 594,613 C580,606 565,600 548,596 C536,590 524,582 514,576 Z" fill="url(#musG)" stroke="#ece6e0" stroke-width="1.2" /><g clip-path="url(#cDelB)"><path d="M513.7,573.4 Q555.1,586.5 592.6,615.6" fill="none" stroke="#e7aeab" stroke-width="0.9" opacity="0.55"/><path d="M517.0,572.1 Q557.4,585.5 593.8,614.9" fill="none" stroke="#a3434a" stroke-width="0.9" opacity="0.35"/><path d="M520.3,570.8 Q559.7,584.4 595.0,614.1" fill="none" stroke="#e7aeab" stroke-width="0.9" opacity="0.55"/><path d="M523.7,569.5 Q561.9,583.4 596.2,613.4" fill="none" stroke="#a3434a" stroke-width="0.9" opacity="0.35"/><path d="M527.0,568.2 Q564.2,582.4 597.4,612.6" fill="none" stroke="#e7aeab" stroke-width="0.9" opacity="0.55"/><path d="M530.3,566.9 Q566.5,581.4 598.6,611.9" fill="none" stroke="#a3434a" stroke-width="0.9" opacity="0.35"/><path d="M533.7,565.6 Q568.8,580.4 599.9,611.1" fill="none" stroke="#e7aeab" stroke-width="0.9" opacity="0.55"/><path d="M537.0,564.3 Q571.0,579.3 601.1,610.4" fill="none" stroke="#a3434a" stroke-width="0.9" opacity="0.35"/><path d="M540.3,563.0 Q573.3,578.3 602.3,609.6" fill="none" stroke="#e7aeab" stroke-width="0.9" opacity="0.55"/><path d="M543.7,561.7 Q575.6,577.3 603.5,608.9" fill="none" stroke="#a3434a" stroke-width="0.9" opacity="0.35"/><path d="M547.0,560.4 Q577.8,576.3 604.7,608.1" fill="none" stroke="#e7aeab" stroke-width="0.9" opacity="0.55"/><path d="M550.3,559.1 Q580.1,575.3 605.9,607.4" fill="none" stroke="#a3434a" stroke-width="0.9" opacity="0.35"/><path d="M553.7,557.9 Q582.4,574.2 607.1,606.6" fill="none" stroke="#e7aeab" stroke-width="0.9" opacity="0.55"/><path d="M557.0,556.6 Q584.7,573.2 608.3,605.9" fill="none" stroke="#a3434a" stroke-width="0.9" opacity="0.35"/><path d="M560.3,555.3 Q586.9,572.2 609.5,605.1" fill="none" stroke="#e7aeab" stroke-width="0.9" opacity="0.55"/><path d="M563.7,554.0 Q589.2,571.2 610.7,604.4" fill="none" stroke="#a3434a" stroke-width="0.9" opacity="0.35"/><path d="M567.0,552.7 Q591.5,570.2 611.9,603.6" fill="none" stroke="#e7aeab" stroke-width="0.9" opacity="0.55"/><path d="M570.3,551.4 Q593.7,569.1 613.1,602.9" fill="none" stroke="#a3434a" stroke-width="0.9" opacity="0.35"/><path d="M573.7,550.1 Q596.0,568.1 614.4,602.1" fill="none" stroke="#e7aeab" stroke-width="0.9" opacity="0.55"/><path d="M577.0,548.8 Q598.3,567.1 615.6,601.4" fill="none" stroke="#a3434a" stroke-width="0.9" opacity="0.35"/><path d="M580.3,547.5 Q600.6,566.1 616.8,600.6" fill="none" stroke="#e7aeab" stroke-width="0.9" opacity="0.55"/><path d="M583.7,546.2 Q602.8,565.1 618.0,599.9" fill="none" stroke="#a3434a" stroke-width="0.9" opacity="0.35"/><path d="M587.0,544.9 Q605.1,564.0 619.2,599.1" fill="none" stroke="#e7aeab" stroke-width="0.9" opacity="0.55"/><path d="M590.3,543.6 Q607.4,563.0 620.4,598.4" fill="none" stroke="#a3434a" stroke-width="0.9" opacity="0.35"/></g><path d="M547,600 C558,602 572,604 582,606 C572,612 558,618 547,622 Z" fill="#b5525a" stroke="#9a3a40" stroke-width="0.5" /><g clip-path="url(#cTmin)"><path d="M545.0,599.9 Q564.5,602.1 584.0,604.4" fill="none" stroke="#e7aeab" stroke-width="0.9" opacity="0.55"/><path d="M545.0,603.6 Q564.5,604.4 584.0,605.3" fill="none" stroke="#a3434a" stroke-width="0.9" opacity="0.35"/><path d="M545.0,607.3 Q564.5,606.7 584.0,606.1" fill="none" stroke="#e7aeab" stroke-width="0.9" opacity="0.55"/><path d="M545.0,611.0 Q564.5,609.0 584.0,607.0" fill="none" stroke="#a3434a" stroke-width="0.9" opacity="0.35"/><path d="M545.0,614.7 Q564.5,611.3 584.0,607.9" fill="none" stroke="#e7aeab" stroke-width="0.9" opacity="0.55"/><path d="M545.0,618.4 Q564.5,613.6 584.0,608.7" fill="none" stroke="#a3434a" stroke-width="0.9" opacity="0.35"/><path d="M545.0,622.1 Q564.5,615.9 584.0,609.6" fill="none" stroke="#e7aeab" stroke-width="0.9" opacity="0.55"/></g><rect x="270" y="644" width="400" height="28" fill="url(#fade)"/><rect x="270" y="670" width="400" height="12" fill="#fff"/><line x1="277.8" y1="552.4" x2="411.6" y2="552.4" stroke="#3b3d40" stroke-width="1.3"/><line x1="278.5" y1="581" x2="409.5" y2="581" stroke="#3b3d40" stroke-width="1.3"/><line x1="579.7" y1="568.2" x2="654.8" y2="568.2" stroke="#3b3d40" stroke-width="1.3"/><line x1="557.7" y1="607.4" x2="652.5" y2="607.4" stroke="#3b3d40" stroke-width="1.3"/><line x1="557.7" y1="634.4" x2="652.5" y2="634.4" stroke="#3b3d40" stroke-width="1.3"/></g><path d="M1304,99 C1280,99 1262,112 1256,135 C1253,148 1253,160 1254,168 C1247,163 1243,170 1245,180 C1247,192 1250,200 1258,203 C1262,215 1268,226 1274,234 L1274,262 C1266,272 1248,282 1226,290 C1200,298 1180,305 1170,318 C1160,332 1160,348 1161,360 C1160,385 1157,420 1152,450 C1148,480 1140,505 1130,535 L1178,535 C1185,505 1192,480 1198,462 C1203,440 1207,410 1212,388 L1216,386 L1219,524 L1389,524 L1392,386 L1397,388 C1402,410 1407,440 1413,462 C1420,485 1428,508 1436,535 L1484,535 C1476,505 1468,480 1463,450 C1456,420 1452,385 1448,360 C1447,345 1446,332 1438,318 C1428,305 1408,298 1382,290 C1360,282 1342,272 1334,262 L1334,234 C1340,226 1346,215 1350,203 C1358,200 1361,192 1363,180 C1365,170 1361,163 1354,168 C1355,160 1355,148 1352,135 C1346,112 1328,99 1304,99 Z" fill="url(#skinC)" stroke="#eea08d" stroke-width="1.1" /><path d="M1272,234 L1336,234 L1337,272 L1271,272 Z" fill="url(#neckG)" /><path d="M1304,98 C1275,98 1252,110 1252,144 C1252,152 1252,160 1253,167 C1247,163 1244,170 1246,180 C1248,193 1251,202 1258,205 C1261,216 1265,226 1273,236 C1283,246 1292,251 1304,251 C1316,251 1325,246 1335,236 C1343,226 1347,216 1350,205 C1357,202 1360,193 1362,180 C1364,170 1361,163 1355,167 C1356,160 1356,152 1356,144 C1356,110 1333,98 1304,98 Z" fill="#f9dacd" stroke="#eea08d" stroke-width="1.1" /><path d="M1266,164 C1273,160 1285,159 1294,163" fill="none" stroke="#7d6e66" stroke-width="2" /><path d="M1314,163 C1323,159 1335,160 1342,164" fill="none" stroke="#7d6e66" stroke-width="2" /><path d="M1271,174 C1275,169 1285,169 1289,174 C1285,178 1275,178 1271,174 Z" fill="#efe6de" stroke="#7a6450" stroke-width="0.9"/><circle cx="1280" cy="174" r="3.2" fill="#85775a"/><circle cx="1280" cy="174" r="1.2" fill="#4a3f33"/><path d="M1319,174 C1323,169 1333,169 1337,174 C1333,178 1323,178 1319,174 Z" fill="#efe6de" stroke="#7a6450" stroke-width="0.9"/><circle cx="1328" cy="174" r="3.2" fill="#85775a"/><circle cx="1328" cy="174" r="1.2" fill="#4a3f33"/><path d="M1297,184 C1295,194 1291,202 1291,207 C1294,211 1314,211 1317,207 C1317,202 1313,194 1311,184" fill="none" stroke="#e6b1a2" stroke-width="0.9" /><path d="M1296,208 C1300,211 1308,211 1312,208" fill="none" stroke="#d9998a" stroke-width="0.9" /><path d="M1289,222 C1297,219 1311,219 1319,222 C1311,227 1297,227 1289,222 Z" fill="#f2c4b6" stroke="#dba191" stroke-width="0.7" /><path d="M1250,176 C1251,186 1253,194 1256,200" fill="none" stroke="#e8a898" stroke-width="1" /><path d="M1358,176 C1357,186 1355,194 1352,200" fill="none" stroke="#e8a898" stroke-width="1" /><g transform="matrix(1.02 0 0 1.02 982 149.5)"><g><path d="M330,158 C350,162 374,176 385,200" fill="none" stroke="#a99670" stroke-width="6.0" stroke-linecap="butt"/><path d="M330,158 C350,162 374,176 385,200" fill="none" stroke="#dccaa3" stroke-width="4.5" stroke-linecap="butt"/><path d="M330,179 C350,183 379,197 390,221" fill="none" stroke="#a99670" stroke-width="6.0" stroke-linecap="butt"/><path d="M330,179 C350,183 379,197 390,221" fill="none" stroke="#dccaa3" stroke-width="4.5" stroke-linecap="butt"/><path d="M330,201 C350,205 383,219 394,243" fill="none" stroke="#a99670" stroke-width="6.0" stroke-linecap="butt"/><path d="M330,201 C350,205 383,219 394,243" fill="none" stroke="#dccaa3" stroke-width="4.5" stroke-linecap="butt"/><path d="M330,225 C350,229 385,243 396,267" fill="none" stroke="#a99670" stroke-width="6.0" stroke-linecap="butt"/><path d="M330,225 C350,229 385,243 396,267" fill="none" stroke="#dccaa3" stroke-width="4.5" stroke-linecap="butt"/><path d="M330,249 C350,253 386,267 397,291" fill="none" stroke="#a99670" stroke-width="6.0" stroke-linecap="butt"/><path d="M330,249 C350,253 386,267 397,291" fill="none" stroke="#dccaa3" stroke-width="4.5" stroke-linecap="butt"/><path d="M330,270 C350,274 386,288 397,312" fill="none" stroke="#a99670" stroke-width="6.0" stroke-linecap="butt"/><path d="M330,270 C350,274 386,288 397,312" fill="none" stroke="#dccaa3" stroke-width="4.5" stroke-linecap="butt"/><path d="M330,290 C350,294 383,308 394,332" fill="none" stroke="#a99670" stroke-width="6.0" stroke-linecap="butt"/><path d="M330,290 C350,294 383,308 394,332" fill="none" stroke="#dccaa3" stroke-width="4.5" stroke-linecap="butt"/><path d="M330,309 C350,313 378,327 389,351" fill="none" stroke="#a99670" stroke-width="6.0" stroke-linecap="butt"/><path d="M330,309 C350,313 378,327 389,351" fill="none" stroke="#dccaa3" stroke-width="4.5" stroke-linecap="butt"/><path d="M330,325 C350,329 372,343 383,367" fill="none" stroke="#a99670" stroke-width="6.0" stroke-linecap="butt"/><path d="M330,325 C350,329 372,343 383,367" fill="none" stroke="#dccaa3" stroke-width="4.5" stroke-linecap="butt"/><path d="M326,164 L346,167" fill="none" stroke="#8d8fba" stroke-width="9.5" stroke-linecap="butt"/><path d="M326,164 L346,167" fill="none" stroke="#b0b2db" stroke-width="8" stroke-linecap="butt"/><path d="M346,167 C361.0,170 376,166 376,152 C376,143 371,137 364,133" fill="none" stroke="#ad9b74" stroke-width="9.5" stroke-linecap="butt"/><path d="M346,167 C361.0,170 376,166 376,152 C376,143 371,137 364,133" fill="none" stroke="#e9ddbd" stroke-width="8" stroke-linecap="butt"/><path d="M325,186 L345,190" fill="none" stroke="#8d8fba" stroke-width="9.5" stroke-linecap="butt"/><path d="M325,186 L345,190" fill="none" stroke="#b0b2db" stroke-width="8" stroke-linecap="butt"/><path d="M345,190 C366.5,193 388,189 388,175 C388,166 383,160 376,156" fill="none" stroke="#ad9b74" stroke-width="9.5" stroke-linecap="butt"/><path d="M345,190 C366.5,193 388,189 388,175 C388,166 383,160 376,156" fill="none" stroke="#e9ddbd" stroke-width="8" stroke-linecap="butt"/><path d="M325,207 L347,211" fill="none" stroke="#8d8fba" stroke-width="9.5" stroke-linecap="butt"/><path d="M325,207 L347,211" fill="none" stroke="#b0b2db" stroke-width="8" stroke-linecap="butt"/><path d="M347,211 C370.0,214 393,210 393,196 C393,187 388,181 381,177" fill="none" stroke="#ad9b74" stroke-width="9.5" stroke-linecap="butt"/><path d="M347,211 C370.0,214 393,210 393,196 C393,187 388,181 381,177" fill="none" stroke="#e9ddbd" stroke-width="8" stroke-linecap="butt"/><path d="M325,226 L351,233" fill="none" stroke="#8d8fba" stroke-width="9.5" stroke-linecap="butt"/><path d="M325,226 L351,233" fill="none" stroke="#b0b2db" stroke-width="8" stroke-linecap="butt"/><path d="M351,233 C374.0,236 397,232 397,218 C397,209 392,203 385,199" fill="none" stroke="#ad9b74" stroke-width="9.5" stroke-linecap="butt"/><path d="M351,233 C374.0,236 397,232 397,218 C397,209 392,203 385,199" fill="none" stroke="#e9ddbd" stroke-width="8" stroke-linecap="butt"/><path d="M325,244 L357,257" fill="none" stroke="#8d8fba" stroke-width="9.5" stroke-linecap="butt"/><path d="M325,244 L357,257" fill="none" stroke="#b0b2db" stroke-width="8" stroke-linecap="butt"/><path d="M357,257 C378.0,260 399,256 399,242 C399,233 394,227 387,223" fill="none" stroke="#ad9b74" stroke-width="9.5" stroke-linecap="butt"/><path d="M357,257 C378.0,260 399,256 399,242 C399,233 394,227 387,223" fill="none" stroke="#e9ddbd" stroke-width="8" stroke-linecap="butt"/><path d="M322,262 C330,274 338,275 361,281" fill="none" stroke="#8d8fba" stroke-width="8.5" stroke-linecap="butt"/><path d="M322,262 C330,274 338,275 361,281" fill="none" stroke="#b0b2db" stroke-width="7" stroke-linecap="butt"/><path d="M360,281 C374,281 398,275 400,259 C401,251 398,245 393,241" fill="none" stroke="#ad9b74" stroke-width="9.5" stroke-linecap="butt"/><path d="M360,281 C374,281 398,275 400,259 C401,251 398,245 393,241" fill="none" stroke="#e9ddbd" stroke-width="8" stroke-linecap="butt"/><path d="M323,268 C331,280 342,296 365,302" fill="none" stroke="#8d8fba" stroke-width="8.5" stroke-linecap="butt"/><path d="M323,268 C331,280 342,296 365,302" fill="none" stroke="#b0b2db" stroke-width="7" stroke-linecap="butt"/><path d="M364,302 C378,302 398,296 400,280 C401,272 398,266 393,262" fill="none" stroke="#ad9b74" stroke-width="9.5" stroke-linecap="butt"/><path d="M364,302 C378,302 398,296 400,280 C401,272 398,266 393,262" fill="none" stroke="#e9ddbd" stroke-width="8" stroke-linecap="butt"/><path d="M326,276 C334,288 345,316 368,322" fill="none" stroke="#8d8fba" stroke-width="8.5" stroke-linecap="butt"/><path d="M326,276 C334,288 345,316 368,322" fill="none" stroke="#b0b2db" stroke-width="7" stroke-linecap="butt"/><path d="M367,322 C381,322 395,316 397,300 C398,292 395,286 390,282" fill="none" stroke="#ad9b74" stroke-width="9.5" stroke-linecap="butt"/><path d="M367,322 C381,322 395,316 397,300 C398,292 395,286 390,282" fill="none" stroke="#e9ddbd" stroke-width="8" stroke-linecap="butt"/><path d="M330,286 C338,298 348,335 371,341" fill="none" stroke="#8d8fba" stroke-width="8.5" stroke-linecap="butt"/><path d="M330,286 C338,298 348,335 371,341" fill="none" stroke="#b0b2db" stroke-width="7" stroke-linecap="butt"/><path d="M370,341 C384,341 390,335 392,319 C393,311 390,305 385,301" fill="none" stroke="#ad9b74" stroke-width="9.5" stroke-linecap="butt"/><path d="M370,341 C384,341 390,335 392,319 C393,311 390,305 385,301" fill="none" stroke="#e9ddbd" stroke-width="8" stroke-linecap="butt"/><path d="M334,296 C342,308 350,351 373,357" fill="none" stroke="#8d8fba" stroke-width="8.5" stroke-linecap="butt"/><path d="M334,296 C342,308 350,351 373,357" fill="none" stroke="#b0b2db" stroke-width="7" stroke-linecap="butt"/><path d="M372,357 C386,357 384,351 386,335 C387,327 384,321 379,317" fill="none" stroke="#ad9b74" stroke-width="9.5" stroke-linecap="butt"/><path d="M372,357 C386,357 384,351 386,335 C387,327 384,321 379,317" fill="none" stroke="#e9ddbd" stroke-width="8" stroke-linecap="butt"/><path d="M323,128 C342,127 358,134 367,151" fill="none" stroke="#ad9b74" stroke-width="7.5" stroke-linecap="butt"/><path d="M323,128 C342,127 358,134 367,151" fill="none" stroke="#e9ddbd" stroke-width="6" stroke-linecap="butt"/><path d="M323,138 C338,137 350,142 358,152" fill="none" stroke="#ad9b74" stroke-width="5.5" stroke-linecap="butt"/><path d="M323,138 C338,137 350,142 358,152" fill="none" stroke="#e9ddbd" stroke-width="4" stroke-linecap="butt"/><path d="M326,153 C345,149 362,147 378,146 C398,145 410,142 421,148" fill="none" stroke="#ad9b74" stroke-width="8.0" stroke-linecap="butt"/><path d="M326,153 C345,149 362,147 378,146 C398,145 410,142 421,148" fill="none" stroke="#e9ddbd" stroke-width="6.5" stroke-linecap="butt"/><path d="M404,141 C414,138 424,142 426,150 C422,156 410,154 404,149 Z" fill="#e9ddbd" stroke="#ad9b74" stroke-width="0.9" /><path d="M324,99 L333,103 L336,109 L324,110 Z" fill="#e9ddbd" stroke="#ad9b74" stroke-width="0.8" /><path d="M324,110 L334,114 L337,120 L324,121 Z" fill="#e9ddbd" stroke="#ad9b74" stroke-width="0.8" /><path d="M324,121 L335,125 L338,131 L324,132 Z" fill="#e9ddbd" stroke="#ad9b74" stroke-width="0.8" /></g><g transform="translate(630,0) scale(-1,1)"><path d="M330,158 C350,162 374,176 385,200" fill="none" stroke="#a99670" stroke-width="6.0" stroke-linecap="butt"/><path d="M330,158 C350,162 374,176 385,200" fill="none" stroke="#dccaa3" stroke-width="4.5" stroke-linecap="butt"/><path d="M330,179 C350,183 379,197 390,221" fill="none" stroke="#a99670" stroke-width="6.0" stroke-linecap="butt"/><path d="M330,179 C350,183 379,197 390,221" fill="none" stroke="#dccaa3" stroke-width="4.5" stroke-linecap="butt"/><path d="M330,201 C350,205 383,219 394,243" fill="none" stroke="#a99670" stroke-width="6.0" stroke-linecap="butt"/><path d="M330,201 C350,205 383,219 394,243" fill="none" stroke="#dccaa3" stroke-width="4.5" stroke-linecap="butt"/><path d="M330,225 C350,229 385,243 396,267" fill="none" stroke="#a99670" stroke-width="6.0" stroke-linecap="butt"/><path d="M330,225 C350,229 385,243 396,267" fill="none" stroke="#dccaa3" stroke-width="4.5" stroke-linecap="butt"/><path d="M330,249 C350,253 386,267 397,291" fill="none" stroke="#a99670" stroke-width="6.0" stroke-linecap="butt"/><path d="M330,249 C350,253 386,267 397,291" fill="none" stroke="#dccaa3" stroke-width="4.5" stroke-linecap="butt"/><path d="M330,270 C350,274 386,288 397,312" fill="none" stroke="#a99670" stroke-width="6.0" stroke-linecap="butt"/><path d="M330,270 C350,274 386,288 397,312" fill="none" stroke="#dccaa3" stroke-width="4.5" stroke-linecap="butt"/><path d="M330,290 C350,294 383,308 394,332" fill="none" stroke="#a99670" stroke-width="6.0" stroke-linecap="butt"/><path d="M330,290 C350,294 383,308 394,332" fill="none" stroke="#dccaa3" stroke-width="4.5" stroke-linecap="butt"/><path d="M330,309 C350,313 378,327 389,351" fill="none" stroke="#a99670" stroke-width="6.0" stroke-linecap="butt"/><path d="M330,309 C350,313 378,327 389,351" fill="none" stroke="#dccaa3" stroke-width="4.5" stroke-linecap="butt"/><path d="M330,325 C350,329 372,343 383,367" fill="none" stroke="#a99670" stroke-width="6.0" stroke-linecap="butt"/><path d="M330,325 C350,329 372,343 383,367" fill="none" stroke="#dccaa3" stroke-width="4.5" stroke-linecap="butt"/><path d="M326,164 L346,167" fill="none" stroke="#8d8fba" stroke-width="9.5" stroke-linecap="butt"/><path d="M326,164 L346,167" fill="none" stroke="#b0b2db" stroke-width="8" stroke-linecap="butt"/><path d="M346,167 C361.0,170 376,166 376,152 C376,143 371,137 364,133" fill="none" stroke="#ad9b74" stroke-width="9.5" stroke-linecap="butt"/><path d="M346,167 C361.0,170 376,166 376,152 C376,143 371,137 364,133" fill="none" stroke="#e9ddbd" stroke-width="8" stroke-linecap="butt"/><path d="M325,186 L345,190" fill="none" stroke="#8d8fba" stroke-width="9.5" stroke-linecap="butt"/><path d="M325,186 L345,190" fill="none" stroke="#b0b2db" stroke-width="8" stroke-linecap="butt"/><path d="M345,190 C366.5,193 388,189 388,175 C388,166 383,160 376,156" fill="none" stroke="#ad9b74" stroke-width="9.5" stroke-linecap="butt"/><path d="M345,190 C366.5,193 388,189 388,175 C388,166 383,160 376,156" fill="none" stroke="#e9ddbd" stroke-width="8" stroke-linecap="butt"/><path d="M325,207 L347,211" fill="none" stroke="#8d8fba" stroke-width="9.5" stroke-linecap="butt"/><path d="M325,207 L347,211" fill="none" stroke="#b0b2db" stroke-width="8" stroke-linecap="butt"/><path d="M347,211 C370.0,214 393,210 393,196 C393,187 388,181 381,177" fill="none" stroke="#ad9b74" stroke-width="9.5" stroke-linecap="butt"/><path d="M347,211 C370.0,214 393,210 393,196 C393,187 388,181 381,177" fill="none" stroke="#e9ddbd" stroke-width="8" stroke-linecap="butt"/><path d="M325,226 L351,233" fill="none" stroke="#8d8fba" stroke-width="9.5" stroke-linecap="butt"/><path d="M325,226 L351,233" fill="none" stroke="#b0b2db" stroke-width="8" stroke-linecap="butt"/><path d="M351,233 C374.0,236 397,232 397,218 C397,209 392,203 385,199" fill="none" stroke="#ad9b74" stroke-width="9.5" stroke-linecap="butt"/><path d="M351,233 C374.0,236 397,232 397,218 C397,209 392,203 385,199" fill="none" stroke="#e9ddbd" stroke-width="8" stroke-linecap="butt"/><path d="M325,244 L357,257" fill="none" stroke="#8d8fba" stroke-width="9.5" stroke-linecap="butt"/><path d="M325,244 L357,257" fill="none" stroke="#b0b2db" stroke-width="8" stroke-linecap="butt"/><path d="M357,257 C378.0,260 399,256 399,242 C399,233 394,227 387,223" fill="none" stroke="#ad9b74" stroke-width="9.5" stroke-linecap="butt"/><path d="M357,257 C378.0,260 399,256 399,242 C399,233 394,227 387,223" fill="none" stroke="#e9ddbd" stroke-width="8" stroke-linecap="butt"/><path d="M322,262 C330,274 338,275 361,281" fill="none" stroke="#8d8fba" stroke-width="8.5" stroke-linecap="butt"/><path d="M322,262 C330,274 338,275 361,281" fill="none" stroke="#b0b2db" stroke-width="7" stroke-linecap="butt"/><path d="M360,281 C374,281 398,275 400,259 C401,251 398,245 393,241" fill="none" stroke="#ad9b74" stroke-width="9.5" stroke-linecap="butt"/><path d="M360,281 C374,281 398,275 400,259 C401,251 398,245 393,241" fill="none" stroke="#e9ddbd" stroke-width="8" stroke-linecap="butt"/><path d="M323,268 C331,280 342,296 365,302" fill="none" stroke="#8d8fba" stroke-width="8.5" stroke-linecap="butt"/><path d="M323,268 C331,280 342,296 365,302" fill="none" stroke="#b0b2db" stroke-width="7" stroke-linecap="butt"/><path d="M364,302 C378,302 398,296 400,280 C401,272 398,266 393,262" fill="none" stroke="#ad9b74" stroke-width="9.5" stroke-linecap="butt"/><path d="M364,302 C378,302 398,296 400,280 C401,272 398,266 393,262" fill="none" stroke="#e9ddbd" stroke-width="8" stroke-linecap="butt"/><path d="M326,276 C334,288 345,316 368,322" fill="none" stroke="#8d8fba" stroke-width="8.5" stroke-linecap="butt"/><path d="M326,276 C334,288 345,316 368,322" fill="none" stroke="#b0b2db" stroke-width="7" stroke-linecap="butt"/><path d="M367,322 C381,322 395,316 397,300 C398,292 395,286 390,282" fill="none" stroke="#ad9b74" stroke-width="9.5" stroke-linecap="butt"/><path d="M367,322 C381,322 395,316 397,300 C398,292 395,286 390,282" fill="none" stroke="#e9ddbd" stroke-width="8" stroke-linecap="butt"/><path d="M330,286 C338,298 348,335 371,341" fill="none" stroke="#8d8fba" stroke-width="8.5" stroke-linecap="butt"/><path d="M330,286 C338,298 348,335 371,341" fill="none" stroke="#b0b2db" stroke-width="7" stroke-linecap="butt"/><path d="M370,341 C384,341 390,335 392,319 C393,311 390,305 385,301" fill="none" stroke="#ad9b74" stroke-width="9.5" stroke-linecap="butt"/><path d="M370,341 C384,341 390,335 392,319 C393,311 390,305 385,301" fill="none" stroke="#e9ddbd" stroke-width="8" stroke-linecap="butt"/><path d="M334,296 C342,308 350,351 373,357" fill="none" stroke="#8d8fba" stroke-width="8.5" stroke-linecap="butt"/><path d="M334,296 C342,308 350,351 373,357" fill="none" stroke="#b0b2db" stroke-width="7" stroke-linecap="butt"/><path d="M372,357 C386,357 384,351 386,335 C387,327 384,321 379,317" fill="none" stroke="#ad9b74" stroke-width="9.5" stroke-linecap="butt"/><path d="M372,357 C386,357 384,351 386,335 C387,327 384,321 379,317" fill="none" stroke="#e9ddbd" stroke-width="8" stroke-linecap="butt"/><path d="M323,128 C342,127 358,134 367,151" fill="none" stroke="#ad9b74" stroke-width="7.5" stroke-linecap="butt"/><path d="M323,128 C342,127 358,134 367,151" fill="none" stroke="#e9ddbd" stroke-width="6" stroke-linecap="butt"/><path d="M323,138 C338,137 350,142 358,152" fill="none" stroke="#ad9b74" stroke-width="5.5" stroke-linecap="butt"/><path d="M323,138 C338,137 350,142 358,152" fill="none" stroke="#e9ddbd" stroke-width="4" stroke-linecap="butt"/><path d="M326,153 C345,149 362,147 378,146 C398,145 410,142 421,148" fill="none" stroke="#ad9b74" stroke-width="8.0" stroke-linecap="butt"/><path d="M326,153 C345,149 362,147 378,146 C398,145 410,142 421,148" fill="none" stroke="#e9ddbd" stroke-width="6.5" stroke-linecap="butt"/><path d="M404,141 C414,138 424,142 426,150 C422,156 410,154 404,149 Z" fill="#e9ddbd" stroke="#ad9b74" stroke-width="0.9" /><path d="M324,99 L333,103 L336,109 L324,110 Z" fill="#e9ddbd" stroke="#ad9b74" stroke-width="0.8" /><path d="M324,110 L334,114 L337,120 L324,121 Z" fill="#e9ddbd" stroke="#ad9b74" stroke-width="0.8" /><path d="M324,121 L335,125 L338,131 L324,132 Z" fill="#e9ddbd" stroke="#ad9b74" stroke-width="0.8" /></g><path d="M305.5,98 L324.5,98 L324.5,152 L305.5,152 Z" fill="#e9ddbd" stroke="#ad9b74" stroke-width="0.9" /><path d="M306,110.5 L324,110.5" fill="none" stroke="#b0b2db" stroke-width="2.6" /><path d="M306,121 L324,121" fill="none" stroke="#b0b2db" stroke-width="2.6" /><path d="M306,132 L324,132" fill="none" stroke="#b0b2db" stroke-width="2.6" /><path d="M306,146 L324,146" fill="none" stroke="#b0b2db" stroke-width="2.6" /><path d="M304,280 L326,280 L326,374 L304,374 Z" fill="#ddcca6" stroke="#ad9b74" stroke-width="0.9" /><path d="M305,290 L325,290" fill="none" stroke="#b0b2db" stroke-width="3.8" /><path d="M305,315 L325,315" fill="none" stroke="#b0b2db" stroke-width="3.8" /><path d="M305,340 L325,340" fill="none" stroke="#b0b2db" stroke-width="3.8" /><path d="M305,364 L325,364" fill="none" stroke="#b0b2db" stroke-width="3.8" /><path d="M297,302 L333,302" fill="none" stroke="#ad9b74" stroke-width="4.1" stroke-linecap="butt"/><path d="M297,302 L333,302" fill="none" stroke="#e9ddbd" stroke-width="2.6" stroke-linecap="butt"/><path d="M297,328 L333,328" fill="none" stroke="#ad9b74" stroke-width="4.1" stroke-linecap="butt"/><path d="M297,328 L333,328" fill="none" stroke="#e9ddbd" stroke-width="2.6" stroke-linecap="butt"/><path d="M297,352 L333,352" fill="none" stroke="#ad9b74" stroke-width="4.1" stroke-linecap="butt"/><path d="M297,352 L333,352" fill="none" stroke="#e9ddbd" stroke-width="2.6" stroke-linecap="butt"/><path d="M302,150 C310,148 320,148 328,150 L327,172 L325,262 L315,284 L305,262 L303,172 Z" fill="#eadfc1" stroke="#ad9b74" stroke-width="0.9" /><path d="M304,191 L326,191" fill="none" stroke="#ad9b74" stroke-width="0.7" /></g><path d="M1193,334 C1188,324 1192,316 1200,316 C1209,316 1212,326 1208,336 L1204,346 C1198,380 1188,430 1183,472 L1172,472 C1175,430 1184,380 1191,346 Z" fill="#e9ddbd" stroke="#ad9b74" stroke-width="0.9" /><path d="M1162,474 C1168,468 1188,468 1194,476 C1197,484 1194,494 1186,498 C1178,502 1166,500 1160,494 C1157,488 1158,479 1162,474 Z" fill="#e9ddbd" stroke="#ad9b74" stroke-width="0.9" /><path d="M1176,470 L1177,498" fill="none" stroke="#ad9b74" stroke-width="0.7" /><path d="M1166,498 L1146,542" fill="none" stroke="#ad9b74" stroke-width="7.0" stroke-linecap="butt"/><path d="M1166,498 L1146,542" fill="none" stroke="#e9ddbd" stroke-width="5.5" stroke-linecap="butt"/><path d="M1181,498 L1163,542" fill="none" stroke="#ad9b74" stroke-width="7.0" stroke-linecap="butt"/><path d="M1181,498 L1163,542" fill="none" stroke="#e9ddbd" stroke-width="5.5" stroke-linecap="butt"/><g transform="translate(2608,0) scale(-1,1)"><path d="M1193,334 C1188,324 1192,316 1200,316 C1209,316 1212,326 1208,336 L1204,346 C1198,380 1188,430 1183,472 L1172,472 C1175,430 1184,380 1191,346 Z" fill="#e9ddbd" stroke="#ad9b74" stroke-width="0.9" /><path d="M1162,474 C1168,468 1188,468 1194,476 C1197,484 1194,494 1186,498 C1178,502 1166,500 1160,494 C1157,488 1158,479 1162,474 Z" fill="#e9ddbd" stroke="#ad9b74" stroke-width="0.9" /><path d="M1176,470 L1177,498" fill="none" stroke="#ad9b74" stroke-width="0.7" /><path d="M1166,498 L1146,542" fill="none" stroke="#ad9b74" stroke-width="7.0" stroke-linecap="butt"/><path d="M1166,498 L1146,542" fill="none" stroke="#e9ddbd" stroke-width="5.5" stroke-linecap="butt"/><path d="M1181,498 L1163,542" fill="none" stroke="#ad9b74" stroke-width="7.0" stroke-linecap="butt"/><path d="M1181,498 L1163,542" fill="none" stroke="#e9ddbd" stroke-width="5.5" stroke-linecap="butt"/></g><path d="M1241,306 C1260,306 1278,306 1292,307 L1292,421 L1280,441 C1270,440 1260,436 1253,431 C1240,418 1228,400 1221,387 L1197,372 C1199,362 1202,355 1204,350 C1208,343 1212,336 1217,331 C1225,322 1233,314 1241,306 Z" fill="#b9565c" stroke="#9c4248" stroke-width="0.6" /><path d="M1241,306 C1260,306 1278,306 1292,307 L1292,421 L1280,441" fill="none" stroke="#f3ede6" stroke-width="1.8" /><path d="M1197,372 C1199,362 1202,355 1204,350 C1208,343 1212,336 1217,331 C1225,322 1233,314 1241,306" fill="none" stroke="#efcfc6" stroke-width="1.2" /><path d="M1199,371 C1225,360 1262,310 1291,312" fill="none" stroke="#a8434a" stroke-width="1.5" opacity="0.6"/><path d="M1199,371 C1225,370 1262,332 1291,334" fill="none" stroke="#a8434a" stroke-width="1.5" opacity="0.6"/><path d="M1199,371 C1225,380 1262,354 1291,356" fill="none" stroke="#a8434a" stroke-width="1.5" opacity="0.6"/><path d="M1199,371 C1225,390 1262,376 1291,378" fill="none" stroke="#a8434a" stroke-width="1.5" opacity="0.6"/><path d="M1199,371 C1225,400 1262,398 1291,400" fill="none" stroke="#a8434a" stroke-width="1.5" opacity="0.6"/><path d="M1199,371 C1225,410 1262,420 1291,422" fill="none" stroke="#a8434a" stroke-width="1.5" opacity="0.6"/><g clip-path="url(#cPecC)"><path d="M1198.0,372.0 Q1250.9,330.3 1295.8,298.6" fill="none" stroke="#e7aeab" stroke-width="0.9" opacity="0.55"/><path d="M1198.0,372.0 Q1250.8,333.0 1295.5,303.9" fill="none" stroke="#a3434a" stroke-width="0.9" opacity="0.35"/><path d="M1198.0,372.0 Q1250.6,335.6 1295.2,309.2" fill="none" stroke="#e7aeab" stroke-width="0.9" opacity="0.55"/><path d="M1198.0,372.0 Q1250.4,338.3 1294.8,314.6" fill="none" stroke="#a3434a" stroke-width="0.9" opacity="0.35"/><path d="M1198.0,372.0 Q1250.2,340.9 1294.5,319.9" fill="none" stroke="#e7aeab" stroke-width="0.9" opacity="0.55"/><path d="M1198.0,372.0 Q1250.1,343.6 1294.2,325.1" fill="none" stroke="#a3434a" stroke-width="0.9" opacity="0.35"/><path d="M1198.0,372.0 Q1249.9,346.2 1293.8,330.4" fill="none" stroke="#e7aeab" stroke-width="0.9" opacity="0.55"/><path d="M1198.0,372.0 Q1249.8,348.9 1293.5,335.8" fill="none" stroke="#a3434a" stroke-width="0.9" opacity="0.35"/><path d="M1198.0,372.0 Q1249.6,351.5 1293.2,341.1" fill="none" stroke="#e7aeab" stroke-width="0.9" opacity="0.55"/><path d="M1198.0,372.0 Q1249.4,354.2 1292.8,346.4" fill="none" stroke="#a3434a" stroke-width="0.9" opacity="0.35"/><path d="M1198.0,372.0 Q1249.2,356.8 1292.5,351.6" fill="none" stroke="#e7aeab" stroke-width="0.9" opacity="0.55"/><path d="M1198.0,372.0 Q1249.1,359.5 1292.2,356.9" fill="none" stroke="#a3434a" stroke-width="0.9" opacity="0.35"/><path d="M1198.0,372.0 Q1248.9,362.1 1291.8,362.2" fill="none" stroke="#e7aeab" stroke-width="0.9" opacity="0.55"/><path d="M1198.0,372.0 Q1248.8,364.8 1291.5,367.6" fill="none" stroke="#a3434a" stroke-width="0.9" opacity="0.35"/><path d="M1198.0,372.0 Q1248.6,367.4 1291.2,372.9" fill="none" stroke="#e7aeab" stroke-width="0.9" opacity="0.55"/><path d="M1198.0,372.0 Q1248.4,370.1 1290.8,378.1" fill="none" stroke="#a3434a" stroke-width="0.9" opacity="0.35"/><path d="M1198.0,372.0 Q1248.2,372.7 1290.5,383.4" fill="none" stroke="#e7aeab" stroke-width="0.9" opacity="0.55"/><path d="M1198.0,372.0 Q1248.1,375.4 1290.2,388.8" fill="none" stroke="#a3434a" stroke-width="0.9" opacity="0.35"/><path d="M1198.0,372.0 Q1247.9,378.0 1289.8,394.1" fill="none" stroke="#e7aeab" stroke-width="0.9" opacity="0.55"/><path d="M1198.0,372.0 Q1247.8,380.7 1289.5,399.4" fill="none" stroke="#a3434a" stroke-width="0.9" opacity="0.35"/><path d="M1198.0,372.0 Q1247.6,383.3 1289.2,404.6" fill="none" stroke="#e7aeab" stroke-width="0.9" opacity="0.55"/><path d="M1198.0,372.0 Q1247.4,386.0 1288.8,409.9" fill="none" stroke="#a3434a" stroke-width="0.9" opacity="0.35"/><path d="M1198.0,372.0 Q1247.2,388.6 1288.5,415.2" fill="none" stroke="#e7aeab" stroke-width="0.9" opacity="0.55"/><path d="M1198.0,372.0 Q1247.1,391.3 1288.2,420.6" fill="none" stroke="#a3434a" stroke-width="0.9" opacity="0.35"/><path d="M1198.0,372.0 Q1246.9,393.9 1287.8,425.9" fill="none" stroke="#e7aeab" stroke-width="0.9" opacity="0.55"/><path d="M1198.0,372.0 Q1246.8,396.6 1287.5,431.1" fill="none" stroke="#a3434a" stroke-width="0.9" opacity="0.35"/><path d="M1198.0,372.0 Q1246.6,399.2 1287.2,436.4" fill="none" stroke="#e7aeab" stroke-width="0.9" opacity="0.55"/><path d="M1198.0,372.0 Q1246.4,401.9 1286.8,441.8" fill="none" stroke="#a3434a" stroke-width="0.9" opacity="0.35"/><path d="M1198.0,372.0 Q1246.2,404.5 1286.5,447.0" fill="none" stroke="#e7aeab" stroke-width="0.9" opacity="0.55"/><path d="M1198.0,372.0 Q1246.1,407.2 1286.2,452.4" fill="none" stroke="#a3434a" stroke-width="0.9" opacity="0.35"/></g><rect x="1110" y="505" width="400" height="35" fill="url(#fade)"/><rect x="1110" y="538" width="400" height="10" fill="#fff"/></svg><!--/FIG-->
<!-- LEFT PAGE -->
<div class="abs" style="left:59.5px;top:37px;font-size:12.75px;line-height:15px;white-space:nowrap;">The Concise Book of Yoga Anatomy</div>
<div class="abs" style="left:59px;top:54px;width:673px;height:2px;background:#f4b9d3;"></div>

<div class="cap" style="left:134.5px;top:396.5px;">Muscles that cross the shoulder joint (anterior view).</div>
<div class="cap" style="left:291px;top:683.5px;">Muscles that cross the shoulder joint (posterior view).</div>

<div class="b" style="left:59.5px;top:722.2px;"><span class="h">Muscles</span><br>Muscles that move the upper arm have to cross the<br>glenohumeral joint in order to work it. This is a major<br>principle of kinesiology: if a muscle does not attach<br>and then cross from one of the articulated bones to the<br>other in some way, how can the bones be moved when<br>the muscle is contracted?<br><br><b>Example:</b> The infraspinatus muscle (see page 103)<br>crosses the shoulder joint from the scapula to the<br>humerus to work it. As it contracts concentrically<br>(shortens), the arm is pulled backward and can rotate<br>externally.<br><br>Viewed anteriorly, the muscles that cross the shoulder<br>joint are the pectoralis major, anterior deltoid,<br>coracobrachialis, and biceps brachii. The posterior<br>muscles are the supraspinatus, infraspinatus, teres</div>

<div class="b" style="left:406px;top:722.2px;">major and minor, latissimus dorsi, posterior deltoid,<br>and triceps brachii. The subscapularis rounds out the<br>shoulder joint’s 11 muscles (counting all deltoids as<br>one muscle). Hidden behind the rib cage and on the<br>anterior side of the scapula, the subscapularis is one of<br>the four rotator cuff muscles of the shoulder joint (the<br>“SITS muscles”: supraspinatus, infraspinatus, teres<br>minor, subscapularis).<br><br>To make things simpler, most of the time the anterior<br>muscles do all forward movement, such as flexion,<br>internal rotation, and horizontal adduction. Posterior-<br>located muscles do the opposite actions of extension,<br>external rotation, and horizontal abduction.</div>

<div class="abs" style="left:0;top:1058px;width:47px;height:48px;background:#f08ab7;"></div>
<div class="abs s" style="left:0;top:1074.5px;width:47px;text-align:center;font-size:12px;line-height:14px;color:#fff;font-weight:700;">94</div>

<!-- RIGHT PAGE -->
<div class="abs s" style="left:974px;top:29px;font-size:18.8px;letter-spacing:-0.5px;line-height:21px;white-space:nowrap;color:#2d2f33;">PECTORALIS MAJOR</div>
<div class="abs" style="left:974px;top:54px;width:672px;height:2px;background:#f4b9d3;"></div>

<div class="abs" style="left:965px;top:575px;width:459px;height:494px;background:linear-gradient(to right,#fcf7f9 0%,#fbeaf0 45%,#f8d8e4 100%);"></div>
<div class="abs" style="left:1428px;top:575px;width:227px;height:181px;background:linear-gradient(to right,#fcf5f8 0%,#fae6ee 45%,#f8d7e3 100%);"></div>


<div class="b r" style="left:974.4px;top:581.4px;"><b>Latin</b>, <i>pectoralis</i>, relating to the<br>chest; <i>major</i>, larger.<br><br>Along with pectoralis minor,<br>pectoralis major forms the anterior<br>wall of the axilla.</div>
<div class="b r" style="left:974.4px;top:696.9px;"><span class="h">Origin</span><br>Clavicular head: Medial half or<br>two-thirds of front of clavicle.<br>Sternocostal portion: Front of<br>manubrium and body of sternum.<br>Upper six costal cartilages. Rectus<br>sheath.</div>
<div class="b r" style="left:974.4px;top:829.9px;"><span class="h">Insertion</span><br>Crest below greater tubercle<br>of humerus. Lateral lip of<br>intertubercular sulcus (bicipital<br>groove) of humerus.</div>
<div class="b r" style="left:974.4px;top:929.9px;"><span class="h">Action</span><br>Adducts and medially rotates the<br>humerus.<br>Clavicular portion: Flexes and<br>medially rotates the shoulder<br>joint and horizontally adducts<br>the humerus toward the opposite<br>shoulder.</div>
<div class="b r" style="left:1205.5px;top:581.4px;">Sternocostal portion: Obliquely<br>adducts the humerus toward the<br>opposite hip.<br>The pectoralis major is one of the<br>main climbing muscles, pulling the<br>body up to the fixed arm.</div>
<div class="b r" style="left:1205.5px;top:696.9px;"><span class="h">Nerve</span><br>Nerve to upper fibers: Lateral<br>pectoral nerve, C5, C6, C7.<br>Nerve to lower fibers: Lateral and<br>medial pectoral nerves, C6, C7,<br>C8, T1.</div>
<div class="b r" style="left:1205.5px;top:814.2px;line-height:17px;"><span class="h">Basic functional movement</span><br>Clavicular portion: Brings arm<br>forward and across the body,<br>such as in applying deodorant to<br>opposite armpit.<br>Sternocostal portion: Pulling<br>something down from above, such<br>as a rope in bell ringing.<br>In yoga, supporting any arm<br>balance.</div>
<div class="b r" style="left:1205.5px;top:998.9px;"><span class="h">Movements that may injure<br>this muscle</span><br>Overuse. Lifting heavy weights.</div>
<div class="b" style="left:1437.7px;top:580px;"><div class="h" style="line-height:14px;margin-bottom:3px;">Asanas that heavily use this<br>muscle</div><b>Strengthening</b>: High <i>Chaturanga</i><br>(Plank). <i>Chaturanga Dandasana</i>.<br><i>Garudasana</i> (Eagle Arms).<br><i>Bakasana</i> (Crow Pose).<br><i>Mayurasana</i> (Peacock).<br><b>Stretching</b>: Reaching arms behind<br>horizontally. <i>Gomukasana</i> (Cow<br>Face).</div>

<div class="lab" style="left:59px;top:182.2px;">Anterior deltoid</div>
<div class="lab" style="left:59px;top:216.2px;">Pectoralis major</div>
<div class="lab" style="left:70px;top:232.2px;">Biceps brachii</div>
<div class="lab" style="left:469px;top:186.2px;">Subscapularis</div>
<div class="lab" style="left:469px;top:202.2px;">Coracobrachialis</div>
<div class="lab" style="left:197px;top:544.2px;">Supraspinatus</div>
<div class="lab" style="left:203px;top:572.2px;">Infraspinatus</div>
<div class="lab" style="left:658.6px;top:558.2px;">Posterior<br>deltoid</div>
<div class="lab" style="left:658.6px;top:599.2px;">Teres minor</div>
<div class="lab" style="left:658.6px;top:626.2px;">Teres major</div>

<div class="abs" style="left:1658px;top:1058px;width:49px;height:48px;background:#f08ab7;"></div>
<div class="abs s" style="left:1658px;top:1074.5px;width:49px;text-align:center;font-size:12px;line-height:14px;color:#fff;font-weight:700;">95</div>

</body></html>
